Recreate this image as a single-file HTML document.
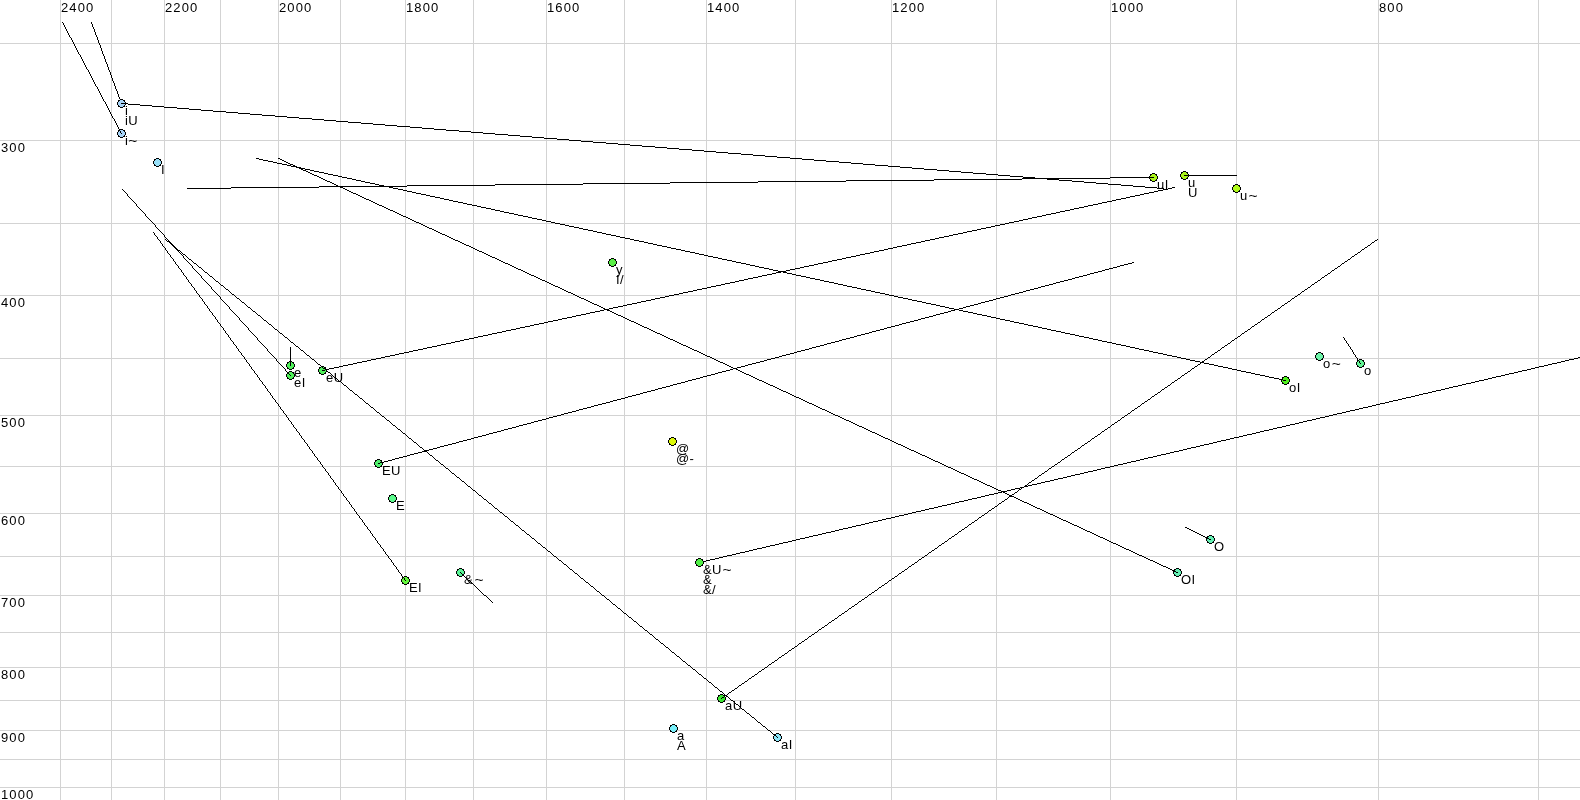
<!DOCTYPE html>
<html><head><meta charset="utf-8"><title>Vowel chart</title>
<style>html,body{margin:0;padding:0;background:#fff;overflow:hidden}svg{display:block;will-change:transform}text{font-family:"Liberation Sans",sans-serif}</style>
</head><body>
<svg width="1580" height="800" viewBox="0 0 1580 800"><rect width="1580" height="800" fill="#fff"/><path fill="#d3d3d3" shape-rendering="crispEdges" d="M60 0h1v800h-1zM111 0h1v800h-1zM164 0h1v800h-1zM220 0h1v800h-1zM278 0h1v800h-1zM340 0h1v800h-1zM405 0h1v800h-1zM473 0h1v800h-1zM546 0h1v800h-1zM624 0h1v800h-1zM706 0h1v800h-1zM795 0h1v800h-1zM891 0h1v800h-1zM996 0h1v800h-1zM1110 0h1v800h-1zM1236 0h1v800h-1zM1378 0h1v800h-1zM1538 0h1v800h-1zM0 43h1580v1h-1580zM0 140h1580v1h-1580zM0 223h1580v1h-1580zM0 295h1580v1h-1580zM0 358h1580v1h-1580zM0 415h1580v1h-1580zM0 466h1580v1h-1580zM0 513h1580v1h-1580zM0 556h1580v1h-1580zM0 595h1580v1h-1580zM0 632h1580v1h-1580zM0 667h1580v1h-1580zM0 700h1580v1h-1580zM0 730h1580v1h-1580zM0 759h1580v1h-1580zM0 787h1580v1h-1580z"/><g font-family="Liberation Sans, sans-serif" font-size="13" letter-spacing="1.1" fill="#000"><text x="61" y="12">2400</text><text x="165" y="12">2200</text><text x="279" y="12">2000</text><text x="406" y="12">1800</text><text x="547" y="12">1600</text><text x="707" y="12">1400</text><text x="892" y="12">1200</text><text x="1111" y="12">1000</text><text x="1379" y="12">800</text><text x="1" y="152">300</text><text x="1" y="307">400</text><text x="1" y="427">500</text><text x="1" y="525">600</text><text x="1" y="607">700</text><text x="1" y="679">800</text><text x="1" y="742">900</text><text x="1" y="799">1000</text></g><path fill="#000" shape-rendering="crispEdges" d="M91 22h1v1h-1zM91 23h1v1h-1zM92 24h1v1h-1zM92 25h1v1h-1zM92 26h1v1h-1zM93 27h1v1h-1zM93 28h1v1h-1zM94 29h1v1h-1zM94 30h1v1h-1zM94 31h1v1h-1zM95 32h1v1h-1zM95 33h1v1h-1zM95 34h1v1h-1zM96 35h1v1h-1zM96 36h1v1h-1zM97 37h1v1h-1zM97 38h1v1h-1zM97 39h1v1h-1zM98 40h1v1h-1zM98 41h1v1h-1zM98 42h1v1h-1zM99 43h1v1h-1zM99 44h1v1h-1zM100 45h1v1h-1zM100 46h1v1h-1zM100 47h1v1h-1zM101 48h1v1h-1zM101 49h1v1h-1zM101 50h1v1h-1zM102 51h1v1h-1zM102 52h1v1h-1zM102 53h1v1h-1zM103 54h1v1h-1zM103 55h1v1h-1zM104 56h1v1h-1zM104 57h1v1h-1zM104 58h1v1h-1zM105 59h1v1h-1zM105 60h1v1h-1zM105 61h1v1h-1zM106 62h1v1h-1zM106 63h1v1h-1zM107 64h1v1h-1zM107 65h1v1h-1zM107 66h1v1h-1zM108 67h1v1h-1zM108 68h1v1h-1zM108 69h1v1h-1zM109 70h1v1h-1zM109 71h1v1h-1zM110 72h1v1h-1zM110 73h1v1h-1zM110 74h1v1h-1zM111 75h1v1h-1zM111 76h1v1h-1zM111 77h1v1h-1zM112 78h1v1h-1zM112 79h1v1h-1zM112 80h1v1h-1zM113 81h1v1h-1zM113 82h1v1h-1zM114 83h1v1h-1zM114 84h1v1h-1zM114 85h1v1h-1zM115 86h1v1h-1zM115 87h1v1h-1zM115 88h1v1h-1zM116 89h1v1h-1zM116 90h1v1h-1zM117 91h1v1h-1zM117 92h1v1h-1zM117 93h1v1h-1zM118 94h1v1h-1zM118 95h1v1h-1zM118 96h1v1h-1zM119 97h1v1h-1zM119 98h1v1h-1zM120 99h1v1h-1zM120 100h1v1h-1zM120 101h1v1h-1zM121 102h1v1h-1zM121 103h1v1h-1zM1578 357h2v1h-2zM1574 358h4v1h-4zM1569 359h5v1h-5zM1565 360h4v1h-4zM1561 361h4v1h-4zM1557 362h4v1h-4zM1552 363h5v1h-5zM1548 364h4v1h-4zM1544 365h4v1h-4zM1539 366h5v1h-5zM1535 367h4v1h-4zM1531 368h4v1h-4zM1527 369h4v1h-4zM1522 370h5v1h-5zM1518 371h4v1h-4zM1514 372h4v1h-4zM1509 373h5v1h-5zM1505 374h4v1h-4zM1501 375h4v1h-4zM1496 376h5v1h-5zM1492 377h4v1h-4zM1488 378h4v1h-4zM1484 379h4v1h-4zM1479 380h5v1h-5zM1475 381h4v1h-4zM1471 382h4v1h-4zM1466 383h5v1h-5zM1462 384h4v1h-4zM1458 385h4v1h-4zM1453 386h5v1h-5zM1449 387h4v1h-4zM1445 388h4v1h-4zM1441 389h4v1h-4zM1436 390h5v1h-5zM1432 391h4v1h-4zM1428 392h4v1h-4zM1423 393h5v1h-5zM1419 394h4v1h-4zM1415 395h4v1h-4zM1411 396h4v1h-4zM1406 397h5v1h-5zM1402 398h4v1h-4zM1398 399h4v1h-4zM1393 400h5v1h-5zM1389 401h4v1h-4zM1385 402h4v1h-4zM1380 403h5v1h-5zM1376 404h4v1h-4zM1372 405h4v1h-4zM1368 406h4v1h-4zM1363 407h5v1h-5zM1359 408h4v1h-4zM1355 409h4v1h-4zM1350 410h5v1h-5zM1346 411h4v1h-4zM1342 412h4v1h-4zM1337 413h5v1h-5zM1333 414h4v1h-4zM1329 415h4v1h-4zM1325 416h4v1h-4zM1320 417h5v1h-5zM1316 418h4v1h-4zM1312 419h4v1h-4zM1307 420h5v1h-5zM1303 421h4v1h-4zM1299 422h4v1h-4zM1295 423h4v1h-4zM1290 424h5v1h-5zM1286 425h4v1h-4zM1282 426h4v1h-4zM1277 427h5v1h-5zM1273 428h4v1h-4zM1269 429h4v1h-4zM1264 430h5v1h-5zM1260 431h4v1h-4zM1256 432h4v1h-4zM1252 433h4v1h-4zM1247 434h5v1h-5zM1243 435h4v1h-4zM1239 436h4v1h-4zM1234 437h5v1h-5zM1230 438h4v1h-4zM1226 439h4v1h-4zM1221 440h5v1h-5zM1217 441h4v1h-4zM1213 442h4v1h-4zM1209 443h4v1h-4zM1204 444h5v1h-5zM1200 445h4v1h-4zM1196 446h4v1h-4zM1191 447h5v1h-5zM1187 448h4v1h-4zM1183 449h4v1h-4zM1179 450h4v1h-4zM1174 451h5v1h-5zM1170 452h4v1h-4zM1166 453h4v1h-4zM1161 454h5v1h-5zM1157 455h4v1h-4zM1153 456h4v1h-4zM1148 457h5v1h-5zM1144 458h4v1h-4zM1140 459h4v1h-4zM1136 460h4v1h-4zM1131 461h5v1h-5zM1127 462h4v1h-4zM1123 463h4v1h-4zM1118 464h5v1h-5zM1114 465h4v1h-4zM1110 466h4v1h-4zM1105 467h5v1h-5zM1101 468h4v1h-4zM1097 469h4v1h-4zM1093 470h4v1h-4zM1088 471h5v1h-5zM1084 472h4v1h-4zM1080 473h4v1h-4zM1075 474h5v1h-5zM1071 475h4v1h-4zM1067 476h4v1h-4zM1063 477h4v1h-4zM1058 478h5v1h-5zM1054 479h4v1h-4zM1050 480h4v1h-4zM1045 481h5v1h-5zM1041 482h4v1h-4zM1037 483h4v1h-4zM1032 484h5v1h-5zM1028 485h4v1h-4zM1024 486h4v1h-4zM1020 487h4v1h-4zM1015 488h5v1h-5zM1011 489h4v1h-4zM1007 490h4v1h-4zM1002 491h5v1h-5zM998 492h4v1h-4zM994 493h4v1h-4zM989 494h5v1h-5zM985 495h4v1h-4zM981 496h4v1h-4zM977 497h4v1h-4zM972 498h5v1h-5zM968 499h4v1h-4zM964 500h4v1h-4zM959 501h5v1h-5zM955 502h4v1h-4zM951 503h4v1h-4zM947 504h4v1h-4zM942 505h5v1h-5zM938 506h4v1h-4zM934 507h4v1h-4zM929 508h5v1h-5zM925 509h4v1h-4zM921 510h4v1h-4zM916 511h5v1h-5zM912 512h4v1h-4zM908 513h4v1h-4zM904 514h4v1h-4zM899 515h5v1h-5zM895 516h4v1h-4zM891 517h4v1h-4zM886 518h5v1h-5zM882 519h4v1h-4zM878 520h4v1h-4zM873 521h5v1h-5zM869 522h4v1h-4zM865 523h4v1h-4zM861 524h4v1h-4zM856 525h5v1h-5zM852 526h4v1h-4zM848 527h4v1h-4zM843 528h5v1h-5zM839 529h4v1h-4zM835 530h4v1h-4zM831 531h4v1h-4zM826 532h5v1h-5zM822 533h4v1h-4zM818 534h4v1h-4zM813 535h5v1h-5zM809 536h4v1h-4zM805 537h4v1h-4zM800 538h5v1h-5zM796 539h4v1h-4zM792 540h4v1h-4zM788 541h4v1h-4zM783 542h5v1h-5zM779 543h4v1h-4zM775 544h4v1h-4zM770 545h5v1h-5zM766 546h4v1h-4zM762 547h4v1h-4zM757 548h5v1h-5zM753 549h4v1h-4zM749 550h4v1h-4zM745 551h4v1h-4zM740 552h5v1h-5zM736 553h4v1h-4zM732 554h4v1h-4zM727 555h5v1h-5zM723 556h4v1h-4zM719 557h4v1h-4zM715 558h4v1h-4zM710 559h5v1h-5zM706 560h4v1h-4zM702 561h4v1h-4zM699 562h3v1h-3z"/><g shape-rendering="crispEdges"><g transform="translate(117 99)"><path d="M3 0h3v1h2v2h1v3h-1v2h-2v1h-3v-1h-2v-2h-1v-3h1v-2h2z" fill="#000"/><path d="M3 1h3v1h1v1h1v3h-1v1h-1v1h-3v-1h-1v-1h-1v-3h1v-1h1z" fill="#a8d4f8"/></g><g transform="translate(117 129)"><path d="M3 0h3v1h2v2h1v3h-1v2h-2v1h-3v-1h-2v-2h-1v-3h1v-2h2z" fill="#000"/><path d="M3 1h3v1h1v1h1v3h-1v1h-1v1h-3v-1h-1v-1h-1v-3h1v-1h1z" fill="#a8d4f8"/></g><g transform="translate(153 158)"><path d="M3 0h3v1h2v2h1v3h-1v2h-2v1h-3v-1h-2v-2h-1v-3h1v-2h2z" fill="#000"/><path d="M3 1h3v1h1v1h1v3h-1v1h-1v1h-3v-1h-1v-1h-1v-3h1v-1h1z" fill="#98e0f8"/></g><g transform="translate(286 361)"><path d="M3 0h3v1h2v2h1v3h-1v2h-2v1h-3v-1h-2v-2h-1v-3h1v-2h2z" fill="#000"/><path d="M3 1h3v1h1v1h1v3h-1v1h-1v1h-3v-1h-1v-1h-1v-3h1v-1h1z" fill="#50f05a"/></g><g transform="translate(286 371)"><path d="M3 0h3v1h2v2h1v3h-1v2h-2v1h-3v-1h-2v-2h-1v-3h1v-2h2z" fill="#000"/><path d="M3 1h3v1h1v1h1v3h-1v1h-1v1h-3v-1h-1v-1h-1v-3h1v-1h1z" fill="#50f05a"/></g><g transform="translate(318 366)"><path d="M3 0h3v1h2v2h1v3h-1v2h-2v1h-3v-1h-2v-2h-1v-3h1v-2h2z" fill="#000"/><path d="M3 1h3v1h1v1h1v3h-1v1h-1v1h-3v-1h-1v-1h-1v-3h1v-1h1z" fill="#50f05a"/></g><g transform="translate(374 459)"><path d="M3 0h3v1h2v2h1v3h-1v2h-2v1h-3v-1h-2v-2h-1v-3h1v-2h2z" fill="#000"/><path d="M3 1h3v1h1v1h1v3h-1v1h-1v1h-3v-1h-1v-1h-1v-3h1v-1h1z" fill="#50f06e"/></g><g transform="translate(388 494)"><path d="M3 0h3v1h2v2h1v3h-1v2h-2v1h-3v-1h-2v-2h-1v-3h1v-2h2z" fill="#000"/><path d="M3 1h3v1h1v1h1v3h-1v1h-1v1h-3v-1h-1v-1h-1v-3h1v-1h1z" fill="#5afa8c"/></g><g transform="translate(401 576)"><path d="M3 0h3v1h2v2h1v3h-1v2h-2v1h-3v-1h-2v-2h-1v-3h1v-2h2z" fill="#000"/><path d="M3 1h3v1h1v1h1v3h-1v1h-1v1h-3v-1h-1v-1h-1v-3h1v-1h1z" fill="#64f53c"/></g><g transform="translate(456 568)"><path d="M3 0h3v1h2v2h1v3h-1v2h-2v1h-3v-1h-2v-2h-1v-3h1v-2h2z" fill="#000"/><path d="M3 1h3v1h1v1h1v3h-1v1h-1v1h-3v-1h-1v-1h-1v-3h1v-1h1z" fill="#5af596"/></g><g transform="translate(608 258)"><path d="M3 0h3v1h2v2h1v3h-1v2h-2v1h-3v-1h-2v-2h-1v-3h1v-2h2z" fill="#000"/><path d="M3 1h3v1h1v1h1v3h-1v1h-1v1h-3v-1h-1v-1h-1v-3h1v-1h1z" fill="#5af046"/></g><g transform="translate(668 437)"><path d="M3 0h3v1h2v2h1v3h-1v2h-2v1h-3v-1h-2v-2h-1v-3h1v-2h2z" fill="#000"/><path d="M3 1h3v1h1v1h1v3h-1v1h-1v1h-3v-1h-1v-1h-1v-3h1v-1h1z" fill="#dcfa0a"/></g><g transform="translate(695 558)"><path d="M3 0h3v1h2v2h1v3h-1v2h-2v1h-3v-1h-2v-2h-1v-3h1v-2h2z" fill="#000"/><path d="M3 1h3v1h1v1h1v3h-1v1h-1v1h-3v-1h-1v-1h-1v-3h1v-1h1z" fill="#50f046"/></g><g transform="translate(717 694)"><path d="M3 0h3v1h2v2h1v3h-1v2h-2v1h-3v-1h-2v-2h-1v-3h1v-2h2z" fill="#000"/><path d="M3 1h3v1h1v1h1v3h-1v1h-1v1h-3v-1h-1v-1h-1v-3h1v-1h1z" fill="#3ce632"/></g><g transform="translate(669 724)"><path d="M3 0h3v1h2v2h1v3h-1v2h-2v1h-3v-1h-2v-2h-1v-3h1v-2h2z" fill="#000"/><path d="M3 1h3v1h1v1h1v3h-1v1h-1v1h-3v-1h-1v-1h-1v-3h1v-1h1z" fill="#78f0fa"/></g><g transform="translate(773 733)"><path d="M3 0h3v1h2v2h1v3h-1v2h-2v1h-3v-1h-2v-2h-1v-3h1v-2h2z" fill="#000"/><path d="M3 1h3v1h1v1h1v3h-1v1h-1v1h-3v-1h-1v-1h-1v-3h1v-1h1z" fill="#8ce6fa"/></g><g transform="translate(1149 173)"><path d="M3 0h3v1h2v2h1v3h-1v2h-2v1h-3v-1h-2v-2h-1v-3h1v-2h2z" fill="#000"/><path d="M3 1h3v1h1v1h1v3h-1v1h-1v1h-3v-1h-1v-1h-1v-3h1v-1h1z" fill="#aaf519"/></g><g transform="translate(1180 171)"><path d="M3 0h3v1h2v2h1v3h-1v2h-2v1h-3v-1h-2v-2h-1v-3h1v-2h2z" fill="#000"/><path d="M3 1h3v1h1v1h1v3h-1v1h-1v1h-3v-1h-1v-1h-1v-3h1v-1h1z" fill="#aaf519"/></g><g transform="translate(1232 184)"><path d="M3 0h3v1h2v2h1v3h-1v2h-2v1h-3v-1h-2v-2h-1v-3h1v-2h2z" fill="#000"/><path d="M3 1h3v1h1v1h1v3h-1v1h-1v1h-3v-1h-1v-1h-1v-3h1v-1h1z" fill="#affa19"/></g><g transform="translate(1281 376)"><path d="M3 0h3v1h2v2h1v3h-1v2h-2v1h-3v-1h-2v-2h-1v-3h1v-2h2z" fill="#000"/><path d="M3 1h3v1h1v1h1v3h-1v1h-1v1h-3v-1h-1v-1h-1v-3h1v-1h1z" fill="#50f01e"/></g><g transform="translate(1315 352)"><path d="M3 0h3v1h2v2h1v3h-1v2h-2v1h-3v-1h-2v-2h-1v-3h1v-2h2z" fill="#000"/><path d="M3 1h3v1h1v1h1v3h-1v1h-1v1h-3v-1h-1v-1h-1v-3h1v-1h1z" fill="#6ef5aa"/></g><g transform="translate(1356 359)"><path d="M3 0h3v1h2v2h1v3h-1v2h-2v1h-3v-1h-2v-2h-1v-3h1v-2h2z" fill="#000"/><path d="M3 1h3v1h1v1h1v3h-1v1h-1v1h-3v-1h-1v-1h-1v-3h1v-1h1z" fill="#64f596"/></g><g transform="translate(1206 535)"><path d="M3 0h3v1h2v2h1v3h-1v2h-2v1h-3v-1h-2v-2h-1v-3h1v-2h2z" fill="#000"/><path d="M3 1h3v1h1v1h1v3h-1v1h-1v1h-3v-1h-1v-1h-1v-3h1v-1h1z" fill="#64f0b4"/></g><g transform="translate(1173 568)"><path d="M3 0h3v1h2v2h1v3h-1v2h-2v1h-3v-1h-2v-2h-1v-3h1v-2h2z" fill="#000"/><path d="M3 1h3v1h1v1h1v3h-1v1h-1v1h-3v-1h-1v-1h-1v-3h1v-1h1z" fill="#64f0b4"/></g></g><path fill="#000" shape-rendering="crispEdges" d="M62 22h1v1h-1zM63 23h1v1h-1zM63 24h1v1h-1zM64 25h1v1h-1zM64 26h1v1h-1zM65 27h1v1h-1zM65 28h1v1h-1zM66 29h1v1h-1zM66 30h1v1h-1zM67 31h1v1h-1zM67 32h1v1h-1zM68 33h1v1h-1zM68 34h1v1h-1zM69 35h1v1h-1zM69 36h1v1h-1zM70 37h1v1h-1zM71 38h1v1h-1zM71 39h1v1h-1zM72 40h1v1h-1zM72 41h1v1h-1zM73 42h1v1h-1zM73 43h1v1h-1zM74 44h1v1h-1zM74 45h1v1h-1zM75 46h1v1h-1zM75 47h1v1h-1zM76 48h1v1h-1zM76 49h1v1h-1zM77 50h1v1h-1zM77 51h1v1h-1zM78 52h1v1h-1zM78 53h1v1h-1zM79 54h1v1h-1zM80 55h1v1h-1zM80 56h1v1h-1zM81 57h1v1h-1zM81 58h1v1h-1zM82 59h1v1h-1zM82 60h1v1h-1zM83 61h1v1h-1zM83 62h1v1h-1zM84 63h1v1h-1zM84 64h1v1h-1zM85 65h1v1h-1zM85 66h1v1h-1zM86 67h1v1h-1zM86 68h1v1h-1zM87 69h1v1h-1zM88 70h1v1h-1zM88 71h1v1h-1zM89 72h1v1h-1zM89 73h1v1h-1zM90 74h1v1h-1zM90 75h1v1h-1zM91 76h1v1h-1zM91 77h1v1h-1zM92 78h1v1h-1zM92 79h1v1h-1zM93 80h1v1h-1zM93 81h1v1h-1zM94 82h1v1h-1zM94 83h1v1h-1zM95 84h1v1h-1zM95 85h1v1h-1zM96 86h1v1h-1zM97 87h1v1h-1zM97 88h1v1h-1zM98 89h1v1h-1zM98 90h1v1h-1zM99 91h1v1h-1zM99 92h1v1h-1zM100 93h1v1h-1zM100 94h1v1h-1zM101 95h1v1h-1zM101 96h1v1h-1zM102 97h1v1h-1zM102 98h1v1h-1zM103 99h1v1h-1zM103 100h1v1h-1zM104 101h1v1h-1zM105 102h1v1h-1zM105 103h1v1h-1zM106 104h1v1h-1zM106 105h1v1h-1zM107 106h1v1h-1zM107 107h1v1h-1zM108 108h1v1h-1zM108 109h1v1h-1zM109 110h1v1h-1zM109 111h1v1h-1zM110 112h1v1h-1zM110 113h1v1h-1zM111 114h1v1h-1zM111 115h1v1h-1zM112 116h1v1h-1zM112 117h1v1h-1zM113 118h1v1h-1zM114 119h1v1h-1zM114 120h1v1h-1zM115 121h1v1h-1zM115 122h1v1h-1zM116 123h1v1h-1zM116 124h1v1h-1zM117 125h1v1h-1zM117 126h1v1h-1zM118 127h1v1h-1zM118 128h1v1h-1zM119 129h1v1h-1zM119 130h1v1h-1zM120 131h1v1h-1zM120 132h1v1h-1zM121 133h1v1h-1zM121 103h7v1h-7zM128 104h12v1h-12zM140 105h12v1h-12zM152 106h12v1h-12zM164 107h13v1h-13zM177 108h12v1h-12zM189 109h12v1h-12zM201 110h12v1h-12zM213 111h13v1h-13zM226 112h12v1h-12zM238 113h12v1h-12zM250 114h12v1h-12zM262 115h13v1h-13zM275 116h12v1h-12zM287 117h12v1h-12zM299 118h13v1h-13zM312 119h12v1h-12zM324 120h12v1h-12zM336 121h12v1h-12zM348 122h13v1h-13zM361 123h12v1h-12zM373 124h12v1h-12zM385 125h12v1h-12zM397 126h13v1h-13zM410 127h12v1h-12zM422 128h12v1h-12zM434 129h12v1h-12zM446 130h13v1h-13zM459 131h12v1h-12zM471 132h12v1h-12zM483 133h12v1h-12zM495 134h13v1h-13zM508 135h12v1h-12zM520 136h12v1h-12zM532 137h12v1h-12zM544 138h13v1h-13zM557 139h12v1h-12zM569 140h12v1h-12zM581 141h12v1h-12zM593 142h13v1h-13zM606 143h12v1h-12zM618 144h12v1h-12zM630 145h12v1h-12zM642 146h13v1h-13zM655 147h12v1h-12zM667 148h12v1h-12zM679 149h13v1h-13zM692 150h12v1h-12zM704 151h12v1h-12zM716 152h12v1h-12zM728 153h13v1h-13zM741 154h12v1h-12zM753 155h12v1h-12zM765 156h12v1h-12zM777 157h13v1h-13zM790 158h12v1h-12zM802 159h12v1h-12zM814 160h12v1h-12zM826 161h13v1h-13zM839 162h12v1h-12zM851 163h12v1h-12zM863 164h12v1h-12zM875 165h13v1h-13zM888 166h12v1h-12zM900 167h12v1h-12zM912 168h12v1h-12zM924 169h13v1h-13zM937 170h12v1h-12zM949 171h12v1h-12zM961 172h12v1h-12zM973 173h13v1h-13zM986 174h12v1h-12zM998 175h12v1h-12zM1010 176h13v1h-13zM1023 177h12v1h-12zM1035 178h12v1h-12zM1047 179h12v1h-12zM1059 180h13v1h-13zM1072 181h12v1h-12zM1084 182h12v1h-12zM1096 183h12v1h-12zM1108 184h13v1h-13zM1121 185h12v1h-12zM1133 186h12v1h-12zM1145 187h12v1h-12zM1157 188h7v1h-7zM1110 177h44v1h-44zM1022 178h88v1h-88zM934 179h88v1h-88zM846 180h88v1h-88zM758 181h88v1h-88zM670 182h88v1h-88zM583 183h87v1h-87zM495 184h88v1h-88zM407 185h88v1h-88zM319 186h88v1h-88zM231 187h88v1h-88zM187 188h44v1h-44zM256 158h3v1h-3zM259 159h4v1h-4zM263 160h5v1h-5zM268 161h5v1h-5zM273 162h4v1h-4zM277 163h5v1h-5zM282 164h5v1h-5zM287 165h4v1h-4zM291 166h5v1h-5zM296 167h5v1h-5zM301 168h4v1h-4zM305 169h5v1h-5zM310 170h4v1h-4zM314 171h5v1h-5zM319 172h5v1h-5zM324 173h4v1h-4zM328 174h5v1h-5zM333 175h5v1h-5zM338 176h4v1h-4zM342 177h5v1h-5zM347 178h5v1h-5zM352 179h4v1h-4zM356 180h5v1h-5zM361 181h4v1h-4zM365 182h5v1h-5zM370 183h5v1h-5zM375 184h4v1h-4zM379 185h5v1h-5zM384 186h5v1h-5zM389 187h4v1h-4zM393 188h5v1h-5zM398 189h5v1h-5zM403 190h4v1h-4zM407 191h5v1h-5zM412 192h4v1h-4zM416 193h5v1h-5zM421 194h5v1h-5zM426 195h4v1h-4zM430 196h5v1h-5zM435 197h5v1h-5zM440 198h4v1h-4zM444 199h5v1h-5zM449 200h4v1h-4zM453 201h5v1h-5zM458 202h5v1h-5zM463 203h4v1h-4zM467 204h5v1h-5zM472 205h5v1h-5zM477 206h4v1h-4zM481 207h5v1h-5zM486 208h5v1h-5zM491 209h4v1h-4zM495 210h5v1h-5zM500 211h4v1h-4zM504 212h5v1h-5zM509 213h5v1h-5zM514 214h4v1h-4zM518 215h5v1h-5zM523 216h5v1h-5zM528 217h4v1h-4zM532 218h5v1h-5zM537 219h5v1h-5zM542 220h4v1h-4zM546 221h5v1h-5zM551 222h4v1h-4zM555 223h5v1h-5zM560 224h5v1h-5zM565 225h4v1h-4zM569 226h5v1h-5zM574 227h5v1h-5zM579 228h4v1h-4zM583 229h5v1h-5zM588 230h5v1h-5zM593 231h4v1h-4zM597 232h5v1h-5zM602 233h4v1h-4zM606 234h5v1h-5zM611 235h5v1h-5zM616 236h4v1h-4zM620 237h5v1h-5zM625 238h5v1h-5zM630 239h4v1h-4zM634 240h5v1h-5zM639 241h5v1h-5zM644 242h4v1h-4zM648 243h5v1h-5zM653 244h4v1h-4zM657 245h5v1h-5zM662 246h5v1h-5zM667 247h4v1h-4zM671 248h5v1h-5zM676 249h5v1h-5zM681 250h4v1h-4zM685 251h5v1h-5zM690 252h5v1h-5zM695 253h4v1h-4zM699 254h5v1h-5zM704 255h4v1h-4zM708 256h5v1h-5zM713 257h5v1h-5zM718 258h4v1h-4zM722 259h5v1h-5zM727 260h5v1h-5zM732 261h4v1h-4zM736 262h5v1h-5zM741 263h5v1h-5zM746 264h4v1h-4zM750 265h5v1h-5zM755 266h4v1h-4zM759 267h5v1h-5zM764 268h5v1h-5zM769 269h4v1h-4zM773 270h5v1h-5zM778 271h5v1h-5zM783 272h4v1h-4zM787 273h5v1h-5zM792 274h4v1h-4zM796 275h5v1h-5zM801 276h5v1h-5zM806 277h4v1h-4zM810 278h5v1h-5zM815 279h5v1h-5zM820 280h4v1h-4zM824 281h5v1h-5zM829 282h5v1h-5zM834 283h4v1h-4zM838 284h5v1h-5zM843 285h4v1h-4zM847 286h5v1h-5zM852 287h5v1h-5zM857 288h4v1h-4zM861 289h5v1h-5zM866 290h5v1h-5zM871 291h4v1h-4zM875 292h5v1h-5zM880 293h5v1h-5zM885 294h4v1h-4zM889 295h5v1h-5zM894 296h4v1h-4zM898 297h5v1h-5zM903 298h5v1h-5zM908 299h4v1h-4zM912 300h5v1h-5zM917 301h5v1h-5zM922 302h4v1h-4zM926 303h5v1h-5zM931 304h5v1h-5zM936 305h4v1h-4zM940 306h5v1h-5zM945 307h4v1h-4zM949 308h5v1h-5zM954 309h5v1h-5zM959 310h4v1h-4zM963 311h5v1h-5zM968 312h5v1h-5zM973 313h4v1h-4zM977 314h5v1h-5zM982 315h5v1h-5zM987 316h4v1h-4zM991 317h5v1h-5zM996 318h4v1h-4zM1000 319h5v1h-5zM1005 320h5v1h-5zM1010 321h4v1h-4zM1014 322h5v1h-5zM1019 323h5v1h-5zM1024 324h4v1h-4zM1028 325h5v1h-5zM1033 326h5v1h-5zM1038 327h4v1h-4zM1042 328h5v1h-5zM1047 329h4v1h-4zM1051 330h5v1h-5zM1056 331h5v1h-5zM1061 332h4v1h-4zM1065 333h5v1h-5zM1070 334h5v1h-5zM1075 335h4v1h-4zM1079 336h5v1h-5zM1084 337h5v1h-5zM1089 338h4v1h-4zM1093 339h5v1h-5zM1098 340h4v1h-4zM1102 341h5v1h-5zM1107 342h5v1h-5zM1112 343h4v1h-4zM1116 344h5v1h-5zM1121 345h5v1h-5zM1126 346h4v1h-4zM1130 347h5v1h-5zM1135 348h4v1h-4zM1139 349h5v1h-5zM1144 350h5v1h-5zM1149 351h4v1h-4zM1153 352h5v1h-5zM1158 353h5v1h-5zM1163 354h4v1h-4zM1167 355h5v1h-5zM1172 356h5v1h-5zM1177 357h4v1h-4zM1181 358h5v1h-5zM1186 359h4v1h-4zM1190 360h5v1h-5zM1195 361h5v1h-5zM1200 362h4v1h-4zM1204 363h5v1h-5zM1209 364h5v1h-5zM1214 365h4v1h-4zM1218 366h5v1h-5zM1223 367h5v1h-5zM1228 368h4v1h-4zM1232 369h5v1h-5zM1237 370h4v1h-4zM1241 371h5v1h-5zM1246 372h5v1h-5zM1251 373h4v1h-4zM1255 374h5v1h-5zM1260 375h5v1h-5zM1265 376h4v1h-4zM1269 377h5v1h-5zM1274 378h5v1h-5zM1279 379h4v1h-4zM1283 380h3v1h-3zM278 158h2v1h-2zM280 159h2v1h-2zM282 160h2v1h-2zM284 161h2v1h-2zM286 162h2v1h-2zM288 163h2v1h-2zM290 164h3v1h-3zM293 165h2v1h-2zM295 166h2v1h-2zM297 167h2v1h-2zM299 168h2v1h-2zM301 169h2v1h-2zM303 170h3v1h-3zM306 171h2v1h-2zM308 172h2v1h-2zM310 173h2v1h-2zM312 174h2v1h-2zM314 175h3v1h-3zM317 176h2v1h-2zM319 177h2v1h-2zM321 178h2v1h-2zM323 179h2v1h-2zM325 180h2v1h-2zM327 181h3v1h-3zM330 182h2v1h-2zM332 183h2v1h-2zM334 184h2v1h-2zM336 185h2v1h-2zM338 186h2v1h-2zM340 187h3v1h-3zM343 188h2v1h-2zM345 189h2v1h-2zM347 190h2v1h-2zM349 191h2v1h-2zM351 192h2v1h-2zM353 193h3v1h-3zM356 194h2v1h-2zM358 195h2v1h-2zM360 196h2v1h-2zM362 197h2v1h-2zM364 198h2v1h-2zM366 199h3v1h-3zM369 200h2v1h-2zM371 201h2v1h-2zM373 202h2v1h-2zM375 203h2v1h-2zM377 204h2v1h-2zM379 205h3v1h-3zM382 206h2v1h-2zM384 207h2v1h-2zM386 208h2v1h-2zM388 209h2v1h-2zM390 210h3v1h-3zM393 211h2v1h-2zM395 212h2v1h-2zM397 213h2v1h-2zM399 214h2v1h-2zM401 215h2v1h-2zM403 216h3v1h-3zM406 217h2v1h-2zM408 218h2v1h-2zM410 219h2v1h-2zM412 220h2v1h-2zM414 221h2v1h-2zM416 222h3v1h-3zM419 223h2v1h-2zM421 224h2v1h-2zM423 225h2v1h-2zM425 226h2v1h-2zM427 227h2v1h-2zM429 228h3v1h-3zM432 229h2v1h-2zM434 230h2v1h-2zM436 231h2v1h-2zM438 232h2v1h-2zM440 233h2v1h-2zM442 234h3v1h-3zM445 235h2v1h-2zM447 236h2v1h-2zM449 237h2v1h-2zM451 238h2v1h-2zM453 239h2v1h-2zM455 240h3v1h-3zM458 241h2v1h-2zM460 242h2v1h-2zM462 243h2v1h-2zM464 244h2v1h-2zM466 245h3v1h-3zM469 246h2v1h-2zM471 247h2v1h-2zM473 248h2v1h-2zM475 249h2v1h-2zM477 250h2v1h-2zM479 251h3v1h-3zM482 252h2v1h-2zM484 253h2v1h-2zM486 254h2v1h-2zM488 255h2v1h-2zM490 256h2v1h-2zM492 257h3v1h-3zM495 258h2v1h-2zM497 259h2v1h-2zM499 260h2v1h-2zM501 261h2v1h-2zM503 262h2v1h-2zM505 263h3v1h-3zM508 264h2v1h-2zM510 265h2v1h-2zM512 266h2v1h-2zM514 267h2v1h-2zM516 268h2v1h-2zM518 269h3v1h-3zM521 270h2v1h-2zM523 271h2v1h-2zM525 272h2v1h-2zM527 273h2v1h-2zM529 274h2v1h-2zM531 275h3v1h-3zM534 276h2v1h-2zM536 277h2v1h-2zM538 278h2v1h-2zM540 279h2v1h-2zM542 280h3v1h-3zM545 281h2v1h-2zM547 282h2v1h-2zM549 283h2v1h-2zM551 284h2v1h-2zM553 285h2v1h-2zM555 286h3v1h-3zM558 287h2v1h-2zM560 288h2v1h-2zM562 289h2v1h-2zM564 290h2v1h-2zM566 291h2v1h-2zM568 292h3v1h-3zM571 293h2v1h-2zM573 294h2v1h-2zM575 295h2v1h-2zM577 296h2v1h-2zM579 297h2v1h-2zM581 298h3v1h-3zM584 299h2v1h-2zM586 300h2v1h-2zM588 301h2v1h-2zM590 302h2v1h-2zM592 303h2v1h-2zM594 304h3v1h-3zM597 305h2v1h-2zM599 306h2v1h-2zM601 307h2v1h-2zM603 308h2v1h-2zM605 309h2v1h-2zM607 310h3v1h-3zM610 311h2v1h-2zM612 312h2v1h-2zM614 313h2v1h-2zM616 314h2v1h-2zM618 315h3v1h-3zM621 316h2v1h-2zM623 317h2v1h-2zM625 318h2v1h-2zM627 319h2v1h-2zM629 320h2v1h-2zM631 321h3v1h-3zM634 322h2v1h-2zM636 323h2v1h-2zM638 324h2v1h-2zM640 325h2v1h-2zM642 326h2v1h-2zM644 327h3v1h-3zM647 328h2v1h-2zM649 329h2v1h-2zM651 330h2v1h-2zM653 331h2v1h-2zM655 332h2v1h-2zM657 333h3v1h-3zM660 334h2v1h-2zM662 335h2v1h-2zM664 336h2v1h-2zM666 337h2v1h-2zM668 338h2v1h-2zM670 339h3v1h-3zM673 340h2v1h-2zM675 341h2v1h-2zM677 342h2v1h-2zM679 343h2v1h-2zM681 344h2v1h-2zM683 345h3v1h-3zM686 346h2v1h-2zM688 347h2v1h-2zM690 348h2v1h-2zM692 349h2v1h-2zM694 350h3v1h-3zM697 351h2v1h-2zM699 352h2v1h-2zM701 353h2v1h-2zM703 354h2v1h-2zM705 355h2v1h-2zM707 356h3v1h-3zM710 357h2v1h-2zM712 358h2v1h-2zM714 359h2v1h-2zM716 360h2v1h-2zM718 361h2v1h-2zM720 362h3v1h-3zM723 363h2v1h-2zM725 364h2v1h-2zM727 365h2v1h-2zM729 366h2v1h-2zM731 367h2v1h-2zM733 368h3v1h-3zM736 369h2v1h-2zM738 370h2v1h-2zM740 371h2v1h-2zM742 372h2v1h-2zM744 373h2v1h-2zM746 374h3v1h-3zM749 375h2v1h-2zM751 376h2v1h-2zM753 377h2v1h-2zM755 378h2v1h-2zM757 379h2v1h-2zM759 380h3v1h-3zM762 381h2v1h-2zM764 382h2v1h-2zM766 383h2v1h-2zM768 384h2v1h-2zM770 385h3v1h-3zM773 386h2v1h-2zM775 387h2v1h-2zM777 388h2v1h-2zM779 389h2v1h-2zM781 390h2v1h-2zM783 391h3v1h-3zM786 392h2v1h-2zM788 393h2v1h-2zM790 394h2v1h-2zM792 395h2v1h-2zM794 396h2v1h-2zM796 397h3v1h-3zM799 398h2v1h-2zM801 399h2v1h-2zM803 400h2v1h-2zM805 401h2v1h-2zM807 402h2v1h-2zM809 403h3v1h-3zM812 404h2v1h-2zM814 405h2v1h-2zM816 406h2v1h-2zM818 407h2v1h-2zM820 408h2v1h-2zM822 409h3v1h-3zM825 410h2v1h-2zM827 411h2v1h-2zM829 412h2v1h-2zM831 413h2v1h-2zM833 414h2v1h-2zM835 415h3v1h-3zM838 416h2v1h-2zM840 417h2v1h-2zM842 418h2v1h-2zM844 419h2v1h-2zM846 420h3v1h-3zM849 421h2v1h-2zM851 422h2v1h-2zM853 423h2v1h-2zM855 424h2v1h-2zM857 425h2v1h-2zM859 426h3v1h-3zM862 427h2v1h-2zM864 428h2v1h-2zM866 429h2v1h-2zM868 430h2v1h-2zM870 431h2v1h-2zM872 432h3v1h-3zM875 433h2v1h-2zM877 434h2v1h-2zM879 435h2v1h-2zM881 436h2v1h-2zM883 437h2v1h-2zM885 438h3v1h-3zM888 439h2v1h-2zM890 440h2v1h-2zM892 441h2v1h-2zM894 442h2v1h-2zM896 443h2v1h-2zM898 444h3v1h-3zM901 445h2v1h-2zM903 446h2v1h-2zM905 447h2v1h-2zM907 448h2v1h-2zM909 449h2v1h-2zM911 450h3v1h-3zM914 451h2v1h-2zM916 452h2v1h-2zM918 453h2v1h-2zM920 454h2v1h-2zM922 455h3v1h-3zM925 456h2v1h-2zM927 457h2v1h-2zM929 458h2v1h-2zM931 459h2v1h-2zM933 460h2v1h-2zM935 461h3v1h-3zM938 462h2v1h-2zM940 463h2v1h-2zM942 464h2v1h-2zM944 465h2v1h-2zM946 466h2v1h-2zM948 467h3v1h-3zM951 468h2v1h-2zM953 469h2v1h-2zM955 470h2v1h-2zM957 471h2v1h-2zM959 472h2v1h-2zM961 473h3v1h-3zM964 474h2v1h-2zM966 475h2v1h-2zM968 476h2v1h-2zM970 477h2v1h-2zM972 478h2v1h-2zM974 479h3v1h-3zM977 480h2v1h-2zM979 481h2v1h-2zM981 482h2v1h-2zM983 483h2v1h-2zM985 484h2v1h-2zM987 485h3v1h-3zM990 486h2v1h-2zM992 487h2v1h-2zM994 488h2v1h-2zM996 489h2v1h-2zM998 490h3v1h-3zM1001 491h2v1h-2zM1003 492h2v1h-2zM1005 493h2v1h-2zM1007 494h2v1h-2zM1009 495h2v1h-2zM1011 496h3v1h-3zM1014 497h2v1h-2zM1016 498h2v1h-2zM1018 499h2v1h-2zM1020 500h2v1h-2zM1022 501h2v1h-2zM1024 502h3v1h-3zM1027 503h2v1h-2zM1029 504h2v1h-2zM1031 505h2v1h-2zM1033 506h2v1h-2zM1035 507h2v1h-2zM1037 508h3v1h-3zM1040 509h2v1h-2zM1042 510h2v1h-2zM1044 511h2v1h-2zM1046 512h2v1h-2zM1048 513h2v1h-2zM1050 514h3v1h-3zM1053 515h2v1h-2zM1055 516h2v1h-2zM1057 517h2v1h-2zM1059 518h2v1h-2zM1061 519h2v1h-2zM1063 520h3v1h-3zM1066 521h2v1h-2zM1068 522h2v1h-2zM1070 523h2v1h-2zM1072 524h2v1h-2zM1074 525h3v1h-3zM1077 526h2v1h-2zM1079 527h2v1h-2zM1081 528h2v1h-2zM1083 529h2v1h-2zM1085 530h2v1h-2zM1087 531h3v1h-3zM1090 532h2v1h-2zM1092 533h2v1h-2zM1094 534h2v1h-2zM1096 535h2v1h-2zM1098 536h2v1h-2zM1100 537h3v1h-3zM1103 538h2v1h-2zM1105 539h2v1h-2zM1107 540h2v1h-2zM1109 541h2v1h-2zM1111 542h2v1h-2zM1113 543h3v1h-3zM1116 544h2v1h-2zM1118 545h2v1h-2zM1120 546h2v1h-2zM1122 547h2v1h-2zM1124 548h2v1h-2zM1126 549h3v1h-3zM1129 550h2v1h-2zM1131 551h2v1h-2zM1133 552h2v1h-2zM1135 553h2v1h-2zM1137 554h2v1h-2zM1139 555h3v1h-3zM1142 556h2v1h-2zM1144 557h2v1h-2zM1146 558h2v1h-2zM1148 559h2v1h-2zM1150 560h3v1h-3zM1153 561h2v1h-2zM1155 562h2v1h-2zM1157 563h2v1h-2zM1159 564h2v1h-2zM1161 565h2v1h-2zM1163 566h3v1h-3zM1166 567h2v1h-2zM1168 568h2v1h-2zM1170 569h2v1h-2zM1172 570h2v1h-2zM1174 571h2v1h-2zM1176 572h2v1h-2zM122 189h1v1h-1zM123 190h1v1h-1zM124 191h1v1h-1zM125 192h1v1h-1zM126 193h1v1h-1zM127 194h1v1h-1zM127 195h1v1h-1zM128 196h1v1h-1zM129 197h1v1h-1zM130 198h1v1h-1zM131 199h1v1h-1zM132 200h1v1h-1zM133 201h1v1h-1zM134 202h1v1h-1zM135 203h1v1h-1zM136 204h1v1h-1zM136 205h1v1h-1zM137 206h1v1h-1zM138 207h1v1h-1zM139 208h1v1h-1zM140 209h1v1h-1zM141 210h1v1h-1zM142 211h1v1h-1zM143 212h1v1h-1zM144 213h1v1h-1zM145 214h1v1h-1zM145 215h1v1h-1zM146 216h1v1h-1zM147 217h1v1h-1zM148 218h1v1h-1zM149 219h1v1h-1zM150 220h1v1h-1zM151 221h1v1h-1zM152 222h1v1h-1zM153 223h1v1h-1zM154 224h1v1h-1zM155 225h1v1h-1zM155 226h1v1h-1zM156 227h1v1h-1zM157 228h1v1h-1zM158 229h1v1h-1zM159 230h1v1h-1zM160 231h1v1h-1zM161 232h1v1h-1zM162 233h1v1h-1zM163 234h1v1h-1zM164 235h1v1h-1zM164 236h1v1h-1zM165 237h1v1h-1zM166 238h1v1h-1zM167 239h1v1h-1zM168 240h1v1h-1zM169 241h1v1h-1zM170 242h1v1h-1zM171 243h1v1h-1zM172 244h1v1h-1zM173 245h1v1h-1zM173 246h1v1h-1zM174 247h1v1h-1zM175 248h1v1h-1zM176 249h1v1h-1zM177 250h1v1h-1zM178 251h1v1h-1zM179 252h1v1h-1zM180 253h1v1h-1zM181 254h1v1h-1zM182 255h1v1h-1zM183 256h1v1h-1zM183 257h1v1h-1zM184 258h1v1h-1zM185 259h1v1h-1zM186 260h1v1h-1zM187 261h1v1h-1zM188 262h1v1h-1zM189 263h1v1h-1zM190 264h1v1h-1zM191 265h1v1h-1zM192 266h1v1h-1zM192 267h1v1h-1zM193 268h1v1h-1zM194 269h1v1h-1zM195 270h1v1h-1zM196 271h1v1h-1zM197 272h1v1h-1zM198 273h1v1h-1zM199 274h1v1h-1zM200 275h1v1h-1zM201 276h1v1h-1zM201 277h1v1h-1zM202 278h1v1h-1zM203 279h1v1h-1zM204 280h1v1h-1zM205 281h1v1h-1zM206 282h1v1h-1zM207 283h1v1h-1zM208 284h1v1h-1zM209 285h1v1h-1zM210 286h1v1h-1zM211 287h1v1h-1zM211 288h1v1h-1zM212 289h1v1h-1zM213 290h1v1h-1zM214 291h1v1h-1zM215 292h1v1h-1zM216 293h1v1h-1zM217 294h1v1h-1zM218 295h1v1h-1zM219 296h1v1h-1zM220 297h1v1h-1zM220 298h1v1h-1zM221 299h1v1h-1zM222 300h1v1h-1zM223 301h1v1h-1zM224 302h1v1h-1zM225 303h1v1h-1zM226 304h1v1h-1zM227 305h1v1h-1zM228 306h1v1h-1zM229 307h1v1h-1zM229 308h1v1h-1zM230 309h1v1h-1zM231 310h1v1h-1zM232 311h1v1h-1zM233 312h1v1h-1zM234 313h1v1h-1zM235 314h1v1h-1zM236 315h1v1h-1zM237 316h1v1h-1zM238 317h1v1h-1zM239 318h1v1h-1zM239 319h1v1h-1zM240 320h1v1h-1zM241 321h1v1h-1zM242 322h1v1h-1zM243 323h1v1h-1zM244 324h1v1h-1zM245 325h1v1h-1zM246 326h1v1h-1zM247 327h1v1h-1zM248 328h1v1h-1zM248 329h1v1h-1zM249 330h1v1h-1zM250 331h1v1h-1zM251 332h1v1h-1zM252 333h1v1h-1zM253 334h1v1h-1zM254 335h1v1h-1zM255 336h1v1h-1zM256 337h1v1h-1zM257 338h1v1h-1zM257 339h1v1h-1zM258 340h1v1h-1zM259 341h1v1h-1zM260 342h1v1h-1zM261 343h1v1h-1zM262 344h1v1h-1zM263 345h1v1h-1zM264 346h1v1h-1zM265 347h1v1h-1zM266 348h1v1h-1zM267 349h1v1h-1zM267 350h1v1h-1zM268 351h1v1h-1zM269 352h1v1h-1zM270 353h1v1h-1zM271 354h1v1h-1zM272 355h1v1h-1zM273 356h1v1h-1zM274 357h1v1h-1zM275 358h1v1h-1zM276 359h1v1h-1zM276 360h1v1h-1zM277 361h1v1h-1zM278 362h1v1h-1zM279 363h1v1h-1zM280 364h1v1h-1zM281 365h1v1h-1zM282 366h1v1h-1zM283 367h1v1h-1zM284 368h1v1h-1zM285 369h1v1h-1zM285 370h1v1h-1zM286 371h1v1h-1zM287 372h1v1h-1zM288 373h1v1h-1zM289 374h1v1h-1zM290 375h1v1h-1zM153 232h1v1h-1zM154 233h1v1h-1zM154 234h1v1h-1zM155 235h1v1h-1zM156 236h1v1h-1zM157 237h1v1h-1zM157 238h1v1h-1zM158 239h1v1h-1zM159 240h1v1h-1zM160 241h1v1h-1zM160 242h1v1h-1zM161 243h1v1h-1zM162 244h1v1h-1zM162 245h1v1h-1zM163 246h1v1h-1zM164 247h1v1h-1zM165 248h1v1h-1zM165 249h1v1h-1zM166 250h1v1h-1zM167 251h1v1h-1zM167 252h1v1h-1zM168 253h1v1h-1zM169 254h1v1h-1zM170 255h1v1h-1zM170 256h1v1h-1zM171 257h1v1h-1zM172 258h1v1h-1zM173 259h1v1h-1zM173 260h1v1h-1zM174 261h1v1h-1zM175 262h1v1h-1zM175 263h1v1h-1zM176 264h1v1h-1zM177 265h1v1h-1zM178 266h1v1h-1zM178 267h1v1h-1zM179 268h1v1h-1zM180 269h1v1h-1zM181 270h1v1h-1zM181 271h1v1h-1zM182 272h1v1h-1zM183 273h1v1h-1zM183 274h1v1h-1zM184 275h1v1h-1zM185 276h1v1h-1zM186 277h1v1h-1zM186 278h1v1h-1zM187 279h1v1h-1zM188 280h1v1h-1zM188 281h1v1h-1zM189 282h1v1h-1zM190 283h1v1h-1zM191 284h1v1h-1zM191 285h1v1h-1zM192 286h1v1h-1zM193 287h1v1h-1zM194 288h1v1h-1zM194 289h1v1h-1zM195 290h1v1h-1zM196 291h1v1h-1zM196 292h1v1h-1zM197 293h1v1h-1zM198 294h1v1h-1zM199 295h1v1h-1zM199 296h1v1h-1zM200 297h1v1h-1zM201 298h1v1h-1zM202 299h1v1h-1zM202 300h1v1h-1zM203 301h1v1h-1zM204 302h1v1h-1zM204 303h1v1h-1zM205 304h1v1h-1zM206 305h1v1h-1zM207 306h1v1h-1zM207 307h1v1h-1zM208 308h1v1h-1zM209 309h1v1h-1zM209 310h1v1h-1zM210 311h1v1h-1zM211 312h1v1h-1zM212 313h1v1h-1zM212 314h1v1h-1zM213 315h1v1h-1zM214 316h1v1h-1zM215 317h1v1h-1zM215 318h1v1h-1zM216 319h1v1h-1zM217 320h1v1h-1zM217 321h1v1h-1zM218 322h1v1h-1zM219 323h1v1h-1zM220 324h1v1h-1zM220 325h1v1h-1zM221 326h1v1h-1zM222 327h1v1h-1zM223 328h1v1h-1zM223 329h1v1h-1zM224 330h1v1h-1zM225 331h1v1h-1zM225 332h1v1h-1zM226 333h1v1h-1zM227 334h1v1h-1zM228 335h1v1h-1zM228 336h1v1h-1zM229 337h1v1h-1zM230 338h1v1h-1zM230 339h1v1h-1zM231 340h1v1h-1zM232 341h1v1h-1zM233 342h1v1h-1zM233 343h1v1h-1zM234 344h1v1h-1zM235 345h1v1h-1zM236 346h1v1h-1zM236 347h1v1h-1zM237 348h1v1h-1zM238 349h1v1h-1zM238 350h1v1h-1zM239 351h1v1h-1zM240 352h1v1h-1zM241 353h1v1h-1zM241 354h1v1h-1zM242 355h1v1h-1zM243 356h1v1h-1zM244 357h1v1h-1zM244 358h1v1h-1zM245 359h1v1h-1zM246 360h1v1h-1zM246 361h1v1h-1zM247 362h1v1h-1zM248 363h1v1h-1zM249 364h1v1h-1zM249 365h1v1h-1zM250 366h1v1h-1zM251 367h1v1h-1zM251 368h1v1h-1zM252 369h1v1h-1zM253 370h1v1h-1zM254 371h1v1h-1zM254 372h1v1h-1zM255 373h1v1h-1zM256 374h1v1h-1zM257 375h1v1h-1zM257 376h1v1h-1zM258 377h1v1h-1zM259 378h1v1h-1zM259 379h1v1h-1zM260 380h1v1h-1zM261 381h1v1h-1zM262 382h1v1h-1zM262 383h1v1h-1zM263 384h1v1h-1zM264 385h1v1h-1zM265 386h1v1h-1zM265 387h1v1h-1zM266 388h1v1h-1zM267 389h1v1h-1zM267 390h1v1h-1zM268 391h1v1h-1zM269 392h1v1h-1zM270 393h1v1h-1zM270 394h1v1h-1zM271 395h1v1h-1zM272 396h1v1h-1zM272 397h1v1h-1zM273 398h1v1h-1zM274 399h1v1h-1zM275 400h1v1h-1zM275 401h1v1h-1zM276 402h1v1h-1zM277 403h1v1h-1zM278 404h1v1h-1zM278 405h1v1h-1zM279 406h1v1h-1zM280 407h1v1h-1zM280 408h1v1h-1zM281 409h1v1h-1zM282 410h1v1h-1zM283 411h1v1h-1zM283 412h1v1h-1zM284 413h1v1h-1zM285 414h1v1h-1zM286 415h1v1h-1zM286 416h1v1h-1zM287 417h1v1h-1zM288 418h1v1h-1zM288 419h1v1h-1zM289 420h1v1h-1zM290 421h1v1h-1zM291 422h1v1h-1zM291 423h1v1h-1zM292 424h1v1h-1zM293 425h1v1h-1zM293 426h1v1h-1zM294 427h1v1h-1zM295 428h1v1h-1zM296 429h1v1h-1zM296 430h1v1h-1zM297 431h1v1h-1zM298 432h1v1h-1zM299 433h1v1h-1zM299 434h1v1h-1zM300 435h1v1h-1zM301 436h1v1h-1zM301 437h1v1h-1zM302 438h1v1h-1zM303 439h1v1h-1zM304 440h1v1h-1zM304 441h1v1h-1zM305 442h1v1h-1zM306 443h1v1h-1zM307 444h1v1h-1zM307 445h1v1h-1zM308 446h1v1h-1zM309 447h1v1h-1zM309 448h1v1h-1zM310 449h1v1h-1zM311 450h1v1h-1zM312 451h1v1h-1zM312 452h1v1h-1zM313 453h1v1h-1zM314 454h1v1h-1zM314 455h1v1h-1zM315 456h1v1h-1zM316 457h1v1h-1zM317 458h1v1h-1zM317 459h1v1h-1zM318 460h1v1h-1zM319 461h1v1h-1zM320 462h1v1h-1zM320 463h1v1h-1zM321 464h1v1h-1zM322 465h1v1h-1zM322 466h1v1h-1zM323 467h1v1h-1zM324 468h1v1h-1zM325 469h1v1h-1zM325 470h1v1h-1zM326 471h1v1h-1zM327 472h1v1h-1zM328 473h1v1h-1zM328 474h1v1h-1zM329 475h1v1h-1zM330 476h1v1h-1zM330 477h1v1h-1zM331 478h1v1h-1zM332 479h1v1h-1zM333 480h1v1h-1zM333 481h1v1h-1zM334 482h1v1h-1zM335 483h1v1h-1zM335 484h1v1h-1zM336 485h1v1h-1zM337 486h1v1h-1zM338 487h1v1h-1zM338 488h1v1h-1zM339 489h1v1h-1zM340 490h1v1h-1zM341 491h1v1h-1zM341 492h1v1h-1zM342 493h1v1h-1zM343 494h1v1h-1zM343 495h1v1h-1zM344 496h1v1h-1zM345 497h1v1h-1zM346 498h1v1h-1zM346 499h1v1h-1zM347 500h1v1h-1zM348 501h1v1h-1zM349 502h1v1h-1zM349 503h1v1h-1zM350 504h1v1h-1zM351 505h1v1h-1zM351 506h1v1h-1zM352 507h1v1h-1zM353 508h1v1h-1zM354 509h1v1h-1zM354 510h1v1h-1zM355 511h1v1h-1zM356 512h1v1h-1zM356 513h1v1h-1zM357 514h1v1h-1zM358 515h1v1h-1zM359 516h1v1h-1zM359 517h1v1h-1zM360 518h1v1h-1zM361 519h1v1h-1zM362 520h1v1h-1zM362 521h1v1h-1zM363 522h1v1h-1zM364 523h1v1h-1zM364 524h1v1h-1zM365 525h1v1h-1zM366 526h1v1h-1zM367 527h1v1h-1zM367 528h1v1h-1zM368 529h1v1h-1zM369 530h1v1h-1zM370 531h1v1h-1zM370 532h1v1h-1zM371 533h1v1h-1zM372 534h1v1h-1zM372 535h1v1h-1zM373 536h1v1h-1zM374 537h1v1h-1zM375 538h1v1h-1zM375 539h1v1h-1zM376 540h1v1h-1zM377 541h1v1h-1zM377 542h1v1h-1zM378 543h1v1h-1zM379 544h1v1h-1zM380 545h1v1h-1zM380 546h1v1h-1zM381 547h1v1h-1zM382 548h1v1h-1zM383 549h1v1h-1zM383 550h1v1h-1zM384 551h1v1h-1zM385 552h1v1h-1zM385 553h1v1h-1zM386 554h1v1h-1zM387 555h1v1h-1zM388 556h1v1h-1zM388 557h1v1h-1zM389 558h1v1h-1zM390 559h1v1h-1zM391 560h1v1h-1zM391 561h1v1h-1zM392 562h1v1h-1zM393 563h1v1h-1zM393 564h1v1h-1zM394 565h1v1h-1zM395 566h1v1h-1zM396 567h1v1h-1zM396 568h1v1h-1zM397 569h1v1h-1zM398 570h1v1h-1zM398 571h1v1h-1zM399 572h1v1h-1zM400 573h1v1h-1zM401 574h1v1h-1zM401 575h1v1h-1zM402 576h1v1h-1zM403 577h1v1h-1zM404 578h1v1h-1zM404 579h1v1h-1zM405 580h1v1h-1zM165 239h1v1h-1zM166 240h1v1h-1zM167 241h2v1h-2zM169 242h1v1h-1zM170 243h1v1h-1zM171 244h1v1h-1zM172 245h1v1h-1zM173 246h2v1h-2zM175 247h1v1h-1zM176 248h1v1h-1zM177 249h1v1h-1zM178 250h2v1h-2zM180 251h1v1h-1zM181 252h1v1h-1zM182 253h1v1h-1zM183 254h2v1h-2zM185 255h1v1h-1zM186 256h1v1h-1zM187 257h1v1h-1zM188 258h1v1h-1zM189 259h2v1h-2zM191 260h1v1h-1zM192 261h1v1h-1zM193 262h1v1h-1zM194 263h2v1h-2zM196 264h1v1h-1zM197 265h1v1h-1zM198 266h1v1h-1zM199 267h2v1h-2zM201 268h1v1h-1zM202 269h1v1h-1zM203 270h1v1h-1zM204 271h1v1h-1zM205 272h2v1h-2zM207 273h1v1h-1zM208 274h1v1h-1zM209 275h1v1h-1zM210 276h2v1h-2zM212 277h1v1h-1zM213 278h1v1h-1zM214 279h1v1h-1zM215 280h1v1h-1zM216 281h2v1h-2zM218 282h1v1h-1zM219 283h1v1h-1zM220 284h1v1h-1zM221 285h2v1h-2zM223 286h1v1h-1zM224 287h1v1h-1zM225 288h1v1h-1zM226 289h2v1h-2zM228 290h1v1h-1zM229 291h1v1h-1zM230 292h1v1h-1zM231 293h1v1h-1zM232 294h2v1h-2zM234 295h1v1h-1zM235 296h1v1h-1zM236 297h1v1h-1zM237 298h2v1h-2zM239 299h1v1h-1zM240 300h1v1h-1zM241 301h1v1h-1zM242 302h2v1h-2zM244 303h1v1h-1zM245 304h1v1h-1zM246 305h1v1h-1zM247 306h1v1h-1zM248 307h2v1h-2zM250 308h1v1h-1zM251 309h1v1h-1zM252 310h1v1h-1zM253 311h2v1h-2zM255 312h1v1h-1zM256 313h1v1h-1zM257 314h1v1h-1zM258 315h2v1h-2zM260 316h1v1h-1zM261 317h1v1h-1zM262 318h1v1h-1zM263 319h1v1h-1zM264 320h2v1h-2zM266 321h1v1h-1zM267 322h1v1h-1zM268 323h1v1h-1zM269 324h2v1h-2zM271 325h1v1h-1zM272 326h1v1h-1zM273 327h1v1h-1zM274 328h1v1h-1zM275 329h2v1h-2zM277 330h1v1h-1zM278 331h1v1h-1zM279 332h1v1h-1zM280 333h2v1h-2zM282 334h1v1h-1zM283 335h1v1h-1zM284 336h1v1h-1zM285 337h2v1h-2zM287 338h1v1h-1zM288 339h1v1h-1zM289 340h1v1h-1zM290 341h1v1h-1zM291 342h2v1h-2zM293 343h1v1h-1zM294 344h1v1h-1zM295 345h1v1h-1zM296 346h2v1h-2zM298 347h1v1h-1zM299 348h1v1h-1zM300 349h1v1h-1zM301 350h2v1h-2zM303 351h1v1h-1zM304 352h1v1h-1zM305 353h1v1h-1zM306 354h1v1h-1zM307 355h2v1h-2zM309 356h1v1h-1zM310 357h1v1h-1zM311 358h1v1h-1zM312 359h2v1h-2zM314 360h1v1h-1zM315 361h1v1h-1zM316 362h1v1h-1zM317 363h1v1h-1zM318 364h2v1h-2zM320 365h1v1h-1zM321 366h1v1h-1zM322 367h1v1h-1zM323 368h2v1h-2zM325 369h1v1h-1zM326 370h1v1h-1zM327 371h1v1h-1zM328 372h2v1h-2zM330 373h1v1h-1zM331 374h1v1h-1zM332 375h1v1h-1zM333 376h1v1h-1zM334 377h2v1h-2zM336 378h1v1h-1zM337 379h1v1h-1zM338 380h1v1h-1zM339 381h2v1h-2zM341 382h1v1h-1zM342 383h1v1h-1zM343 384h1v1h-1zM344 385h2v1h-2zM346 386h1v1h-1zM347 387h1v1h-1zM348 388h1v1h-1zM349 389h1v1h-1zM350 390h2v1h-2zM352 391h1v1h-1zM353 392h1v1h-1zM354 393h1v1h-1zM355 394h2v1h-2zM357 395h1v1h-1zM358 396h1v1h-1zM359 397h1v1h-1zM360 398h2v1h-2zM362 399h1v1h-1zM363 400h1v1h-1zM364 401h1v1h-1zM365 402h1v1h-1zM366 403h2v1h-2zM368 404h1v1h-1zM369 405h1v1h-1zM370 406h1v1h-1zM371 407h2v1h-2zM373 408h1v1h-1zM374 409h1v1h-1zM375 410h1v1h-1zM376 411h1v1h-1zM377 412h2v1h-2zM379 413h1v1h-1zM380 414h1v1h-1zM381 415h1v1h-1zM382 416h2v1h-2zM384 417h1v1h-1zM385 418h1v1h-1zM386 419h1v1h-1zM387 420h2v1h-2zM389 421h1v1h-1zM390 422h1v1h-1zM391 423h1v1h-1zM392 424h1v1h-1zM393 425h2v1h-2zM395 426h1v1h-1zM396 427h1v1h-1zM397 428h1v1h-1zM398 429h2v1h-2zM400 430h1v1h-1zM401 431h1v1h-1zM402 432h1v1h-1zM403 433h2v1h-2zM405 434h1v1h-1zM406 435h1v1h-1zM407 436h1v1h-1zM408 437h1v1h-1zM409 438h2v1h-2zM411 439h1v1h-1zM412 440h1v1h-1zM413 441h1v1h-1zM414 442h2v1h-2zM416 443h1v1h-1zM417 444h1v1h-1zM418 445h1v1h-1zM419 446h1v1h-1zM420 447h2v1h-2zM422 448h1v1h-1zM423 449h1v1h-1zM424 450h1v1h-1zM425 451h2v1h-2zM427 452h1v1h-1zM428 453h1v1h-1zM429 454h1v1h-1zM430 455h2v1h-2zM432 456h1v1h-1zM433 457h1v1h-1zM434 458h1v1h-1zM435 459h1v1h-1zM436 460h2v1h-2zM438 461h1v1h-1zM439 462h1v1h-1zM440 463h1v1h-1zM441 464h2v1h-2zM443 465h1v1h-1zM444 466h1v1h-1zM445 467h1v1h-1zM446 468h2v1h-2zM448 469h1v1h-1zM449 470h1v1h-1zM450 471h1v1h-1zM451 472h1v1h-1zM452 473h2v1h-2zM454 474h1v1h-1zM455 475h1v1h-1zM456 476h1v1h-1zM457 477h2v1h-2zM459 478h1v1h-1zM460 479h1v1h-1zM461 480h1v1h-1zM462 481h2v1h-2zM464 482h1v1h-1zM465 483h1v1h-1zM466 484h1v1h-1zM467 485h1v1h-1zM468 486h2v1h-2zM470 487h1v1h-1zM471 488h1v1h-1zM472 489h1v1h-1zM473 490h2v1h-2zM475 491h1v1h-1zM476 492h1v1h-1zM477 493h1v1h-1zM478 494h1v1h-1zM479 495h2v1h-2zM481 496h1v1h-1zM482 497h1v1h-1zM483 498h1v1h-1zM484 499h2v1h-2zM486 500h1v1h-1zM487 501h1v1h-1zM488 502h1v1h-1zM489 503h2v1h-2zM491 504h1v1h-1zM492 505h1v1h-1zM493 506h1v1h-1zM494 507h1v1h-1zM495 508h2v1h-2zM497 509h1v1h-1zM498 510h1v1h-1zM499 511h1v1h-1zM500 512h2v1h-2zM502 513h1v1h-1zM503 514h1v1h-1zM504 515h1v1h-1zM505 516h2v1h-2zM507 517h1v1h-1zM508 518h1v1h-1zM509 519h1v1h-1zM510 520h1v1h-1zM511 521h2v1h-2zM513 522h1v1h-1zM514 523h1v1h-1zM515 524h1v1h-1zM516 525h2v1h-2zM518 526h1v1h-1zM519 527h1v1h-1zM520 528h1v1h-1zM521 529h1v1h-1zM522 530h2v1h-2zM524 531h1v1h-1zM525 532h1v1h-1zM526 533h1v1h-1zM527 534h2v1h-2zM529 535h1v1h-1zM530 536h1v1h-1zM531 537h1v1h-1zM532 538h2v1h-2zM534 539h1v1h-1zM535 540h1v1h-1zM536 541h1v1h-1zM537 542h1v1h-1zM538 543h2v1h-2zM540 544h1v1h-1zM541 545h1v1h-1zM542 546h1v1h-1zM543 547h2v1h-2zM545 548h1v1h-1zM546 549h1v1h-1zM547 550h1v1h-1zM548 551h2v1h-2zM550 552h1v1h-1zM551 553h1v1h-1zM552 554h1v1h-1zM553 555h1v1h-1zM554 556h2v1h-2zM556 557h1v1h-1zM557 558h1v1h-1zM558 559h1v1h-1zM559 560h2v1h-2zM561 561h1v1h-1zM562 562h1v1h-1zM563 563h1v1h-1zM564 564h2v1h-2zM566 565h1v1h-1zM567 566h1v1h-1zM568 567h1v1h-1zM569 568h1v1h-1zM570 569h2v1h-2zM572 570h1v1h-1zM573 571h1v1h-1zM574 572h1v1h-1zM575 573h2v1h-2zM577 574h1v1h-1zM578 575h1v1h-1zM579 576h1v1h-1zM580 577h1v1h-1zM581 578h2v1h-2zM583 579h1v1h-1zM584 580h1v1h-1zM585 581h1v1h-1zM586 582h2v1h-2zM588 583h1v1h-1zM589 584h1v1h-1zM590 585h1v1h-1zM591 586h2v1h-2zM593 587h1v1h-1zM594 588h1v1h-1zM595 589h1v1h-1zM596 590h1v1h-1zM597 591h2v1h-2zM599 592h1v1h-1zM600 593h1v1h-1zM601 594h1v1h-1zM602 595h2v1h-2zM604 596h1v1h-1zM605 597h1v1h-1zM606 598h1v1h-1zM607 599h2v1h-2zM609 600h1v1h-1zM610 601h1v1h-1zM611 602h1v1h-1zM612 603h1v1h-1zM613 604h2v1h-2zM615 605h1v1h-1zM616 606h1v1h-1zM617 607h1v1h-1zM618 608h2v1h-2zM620 609h1v1h-1zM621 610h1v1h-1zM622 611h1v1h-1zM623 612h1v1h-1zM624 613h2v1h-2zM626 614h1v1h-1zM627 615h1v1h-1zM628 616h1v1h-1zM629 617h2v1h-2zM631 618h1v1h-1zM632 619h1v1h-1zM633 620h1v1h-1zM634 621h2v1h-2zM636 622h1v1h-1zM637 623h1v1h-1zM638 624h1v1h-1zM639 625h1v1h-1zM640 626h2v1h-2zM642 627h1v1h-1zM643 628h1v1h-1zM644 629h1v1h-1zM645 630h2v1h-2zM647 631h1v1h-1zM648 632h1v1h-1zM649 633h1v1h-1zM650 634h2v1h-2zM652 635h1v1h-1zM653 636h1v1h-1zM654 637h1v1h-1zM655 638h1v1h-1zM656 639h2v1h-2zM658 640h1v1h-1zM659 641h1v1h-1zM660 642h1v1h-1zM661 643h2v1h-2zM663 644h1v1h-1zM664 645h1v1h-1zM665 646h1v1h-1zM666 647h2v1h-2zM668 648h1v1h-1zM669 649h1v1h-1zM670 650h1v1h-1zM671 651h1v1h-1zM672 652h2v1h-2zM674 653h1v1h-1zM675 654h1v1h-1zM676 655h1v1h-1zM677 656h2v1h-2zM679 657h1v1h-1zM680 658h1v1h-1zM681 659h1v1h-1zM682 660h1v1h-1zM683 661h2v1h-2zM685 662h1v1h-1zM686 663h1v1h-1zM687 664h1v1h-1zM688 665h2v1h-2zM690 666h1v1h-1zM691 667h1v1h-1zM692 668h1v1h-1zM693 669h2v1h-2zM695 670h1v1h-1zM696 671h1v1h-1zM697 672h1v1h-1zM698 673h1v1h-1zM699 674h2v1h-2zM701 675h1v1h-1zM702 676h1v1h-1zM703 677h1v1h-1zM704 678h2v1h-2zM706 679h1v1h-1zM707 680h1v1h-1zM708 681h1v1h-1zM709 682h2v1h-2zM711 683h1v1h-1zM712 684h1v1h-1zM713 685h1v1h-1zM714 686h1v1h-1zM715 687h2v1h-2zM717 688h1v1h-1zM718 689h1v1h-1zM719 690h1v1h-1zM720 691h2v1h-2zM722 692h1v1h-1zM723 693h1v1h-1zM724 694h1v1h-1zM725 695h1v1h-1zM726 696h2v1h-2zM728 697h1v1h-1zM729 698h1v1h-1zM730 699h1v1h-1zM731 700h2v1h-2zM733 701h1v1h-1zM734 702h1v1h-1zM735 703h1v1h-1zM736 704h2v1h-2zM738 705h1v1h-1zM739 706h1v1h-1zM740 707h1v1h-1zM741 708h1v1h-1zM742 709h2v1h-2zM744 710h1v1h-1zM745 711h1v1h-1zM746 712h1v1h-1zM747 713h2v1h-2zM749 714h1v1h-1zM750 715h1v1h-1zM751 716h1v1h-1zM752 717h2v1h-2zM754 718h1v1h-1zM755 719h1v1h-1zM756 720h1v1h-1zM757 721h1v1h-1zM758 722h2v1h-2zM760 723h1v1h-1zM761 724h1v1h-1zM762 725h1v1h-1zM763 726h2v1h-2zM765 727h1v1h-1zM766 728h1v1h-1zM767 729h1v1h-1zM768 730h2v1h-2zM770 731h1v1h-1zM771 732h1v1h-1zM772 733h1v1h-1zM773 734h1v1h-1zM774 735h2v1h-2zM776 736h1v1h-1zM777 737h1v1h-1zM1172 187h3v1h-3zM1168 188h4v1h-4zM1163 189h5v1h-5zM1158 190h5v1h-5zM1154 191h4v1h-4zM1149 192h5v1h-5zM1144 193h5v1h-5zM1140 194h4v1h-4zM1135 195h5v1h-5zM1130 196h5v1h-5zM1126 197h4v1h-4zM1121 198h5v1h-5zM1116 199h5v1h-5zM1112 200h4v1h-4zM1107 201h5v1h-5zM1102 202h5v1h-5zM1098 203h4v1h-4zM1093 204h5v1h-5zM1088 205h5v1h-5zM1084 206h4v1h-4zM1079 207h5v1h-5zM1074 208h5v1h-5zM1070 209h4v1h-4zM1065 210h5v1h-5zM1060 211h5v1h-5zM1056 212h4v1h-4zM1051 213h5v1h-5zM1046 214h5v1h-5zM1042 215h4v1h-4zM1037 216h5v1h-5zM1032 217h5v1h-5zM1028 218h4v1h-4zM1023 219h5v1h-5zM1019 220h4v1h-4zM1014 221h5v1h-5zM1009 222h5v1h-5zM1005 223h4v1h-4zM1000 224h5v1h-5zM995 225h5v1h-5zM991 226h4v1h-4zM986 227h5v1h-5zM981 228h5v1h-5zM977 229h4v1h-4zM972 230h5v1h-5zM967 231h5v1h-5zM963 232h4v1h-4zM958 233h5v1h-5zM953 234h5v1h-5zM949 235h4v1h-4zM944 236h5v1h-5zM939 237h5v1h-5zM935 238h4v1h-4zM930 239h5v1h-5zM925 240h5v1h-5zM921 241h4v1h-4zM916 242h5v1h-5zM911 243h5v1h-5zM907 244h4v1h-4zM902 245h5v1h-5zM897 246h5v1h-5zM893 247h4v1h-4zM888 248h5v1h-5zM884 249h4v1h-4zM879 250h5v1h-5zM874 251h5v1h-5zM870 252h4v1h-4zM865 253h5v1h-5zM860 254h5v1h-5zM856 255h4v1h-4zM851 256h5v1h-5zM846 257h5v1h-5zM842 258h4v1h-4zM837 259h5v1h-5zM832 260h5v1h-5zM828 261h4v1h-4zM823 262h5v1h-5zM818 263h5v1h-5zM814 264h4v1h-4zM809 265h5v1h-5zM804 266h5v1h-5zM800 267h4v1h-4zM795 268h5v1h-5zM790 269h5v1h-5zM786 270h4v1h-4zM781 271h5v1h-5zM776 272h5v1h-5zM772 273h4v1h-4zM767 274h5v1h-5zM762 275h5v1h-5zM758 276h4v1h-4zM753 277h5v1h-5zM748 278h5v1h-5zM744 279h4v1h-4zM739 280h5v1h-5zM735 281h4v1h-4zM730 282h5v1h-5zM725 283h5v1h-5zM721 284h4v1h-4zM716 285h5v1h-5zM711 286h5v1h-5zM707 287h4v1h-4zM702 288h5v1h-5zM697 289h5v1h-5zM693 290h4v1h-4zM688 291h5v1h-5zM683 292h5v1h-5zM679 293h4v1h-4zM674 294h5v1h-5zM669 295h5v1h-5zM665 296h4v1h-4zM660 297h5v1h-5zM655 298h5v1h-5zM651 299h4v1h-4zM646 300h5v1h-5zM641 301h5v1h-5zM637 302h4v1h-4zM632 303h5v1h-5zM627 304h5v1h-5zM623 305h4v1h-4zM618 306h5v1h-5zM613 307h5v1h-5zM609 308h4v1h-4zM604 309h5v1h-5zM600 310h4v1h-4zM595 311h5v1h-5zM590 312h5v1h-5zM586 313h4v1h-4zM581 314h5v1h-5zM576 315h5v1h-5zM572 316h4v1h-4zM567 317h5v1h-5zM562 318h5v1h-5zM558 319h4v1h-4zM553 320h5v1h-5zM548 321h5v1h-5zM544 322h4v1h-4zM539 323h5v1h-5zM534 324h5v1h-5zM530 325h4v1h-4zM525 326h5v1h-5zM520 327h5v1h-5zM516 328h4v1h-4zM511 329h5v1h-5zM506 330h5v1h-5zM502 331h4v1h-4zM497 332h5v1h-5zM492 333h5v1h-5zM488 334h4v1h-4zM483 335h5v1h-5zM478 336h5v1h-5zM474 337h4v1h-4zM469 338h5v1h-5zM464 339h5v1h-5zM460 340h4v1h-4zM455 341h5v1h-5zM451 342h4v1h-4zM446 343h5v1h-5zM441 344h5v1h-5zM437 345h4v1h-4zM432 346h5v1h-5zM427 347h5v1h-5zM423 348h4v1h-4zM418 349h5v1h-5zM413 350h5v1h-5zM409 351h4v1h-4zM404 352h5v1h-5zM399 353h5v1h-5zM395 354h4v1h-4zM390 355h5v1h-5zM385 356h5v1h-5zM381 357h4v1h-4zM376 358h5v1h-5zM371 359h5v1h-5zM367 360h4v1h-4zM362 361h5v1h-5zM357 362h5v1h-5zM353 363h4v1h-4zM348 364h5v1h-5zM343 365h5v1h-5zM339 366h4v1h-4zM334 367h5v1h-5zM329 368h5v1h-5zM325 369h4v1h-4zM322 370h3v1h-3zM1132 262h2v1h-2zM1128 263h4v1h-4zM1124 264h4v1h-4zM1120 265h4v1h-4zM1117 266h3v1h-3zM1113 267h4v1h-4zM1109 268h4v1h-4zM1105 269h4v1h-4zM1102 270h3v1h-3zM1098 271h4v1h-4zM1094 272h4v1h-4zM1090 273h4v1h-4zM1087 274h3v1h-3zM1083 275h4v1h-4zM1079 276h4v1h-4zM1075 277h4v1h-4zM1072 278h3v1h-3zM1068 279h4v1h-4zM1064 280h4v1h-4zM1060 281h4v1h-4zM1056 282h4v1h-4zM1053 283h3v1h-3zM1049 284h4v1h-4zM1045 285h4v1h-4zM1041 286h4v1h-4zM1038 287h3v1h-3zM1034 288h4v1h-4zM1030 289h4v1h-4zM1026 290h4v1h-4zM1023 291h3v1h-3zM1019 292h4v1h-4zM1015 293h4v1h-4zM1011 294h4v1h-4zM1008 295h3v1h-3zM1004 296h4v1h-4zM1000 297h4v1h-4zM996 298h4v1h-4zM993 299h3v1h-3zM989 300h4v1h-4zM985 301h4v1h-4zM981 302h4v1h-4zM978 303h3v1h-3zM974 304h4v1h-4zM970 305h4v1h-4zM966 306h4v1h-4zM963 307h3v1h-3zM959 308h4v1h-4zM955 309h4v1h-4zM951 310h4v1h-4zM948 311h3v1h-3zM944 312h4v1h-4zM940 313h4v1h-4zM936 314h4v1h-4zM933 315h3v1h-3zM929 316h4v1h-4zM925 317h4v1h-4zM921 318h4v1h-4zM918 319h3v1h-3zM914 320h4v1h-4zM910 321h4v1h-4zM906 322h4v1h-4zM902 323h4v1h-4zM899 324h3v1h-3zM895 325h4v1h-4zM891 326h4v1h-4zM887 327h4v1h-4zM884 328h3v1h-3zM880 329h4v1h-4zM876 330h4v1h-4zM872 331h4v1h-4zM869 332h3v1h-3zM865 333h4v1h-4zM861 334h4v1h-4zM857 335h4v1h-4zM854 336h3v1h-3zM850 337h4v1h-4zM846 338h4v1h-4zM842 339h4v1h-4zM839 340h3v1h-3zM835 341h4v1h-4zM831 342h4v1h-4zM827 343h4v1h-4zM824 344h3v1h-3zM820 345h4v1h-4zM816 346h4v1h-4zM812 347h4v1h-4zM809 348h3v1h-3zM805 349h4v1h-4zM801 350h4v1h-4zM797 351h4v1h-4zM794 352h3v1h-3zM790 353h4v1h-4zM786 354h4v1h-4zM782 355h4v1h-4zM779 356h3v1h-3zM775 357h4v1h-4zM771 358h4v1h-4zM767 359h4v1h-4zM764 360h3v1h-3zM760 361h4v1h-4zM756 362h4v1h-4zM752 363h4v1h-4zM748 364h4v1h-4zM745 365h3v1h-3zM741 366h4v1h-4zM737 367h4v1h-4zM733 368h4v1h-4zM730 369h3v1h-3zM726 370h4v1h-4zM722 371h4v1h-4zM718 372h4v1h-4zM715 373h3v1h-3zM711 374h4v1h-4zM707 375h4v1h-4zM703 376h4v1h-4zM700 377h3v1h-3zM696 378h4v1h-4zM692 379h4v1h-4zM688 380h4v1h-4zM685 381h3v1h-3zM681 382h4v1h-4zM677 383h4v1h-4zM673 384h4v1h-4zM670 385h3v1h-3zM666 386h4v1h-4zM662 387h4v1h-4zM658 388h4v1h-4zM655 389h3v1h-3zM651 390h4v1h-4zM647 391h4v1h-4zM643 392h4v1h-4zM640 393h3v1h-3zM636 394h4v1h-4zM632 395h4v1h-4zM628 396h4v1h-4zM625 397h3v1h-3zM621 398h4v1h-4zM617 399h4v1h-4zM613 400h4v1h-4zM610 401h3v1h-3zM606 402h4v1h-4zM602 403h4v1h-4zM598 404h4v1h-4zM594 405h4v1h-4zM591 406h3v1h-3zM587 407h4v1h-4zM583 408h4v1h-4zM579 409h4v1h-4zM576 410h3v1h-3zM572 411h4v1h-4zM568 412h4v1h-4zM564 413h4v1h-4zM561 414h3v1h-3zM557 415h4v1h-4zM553 416h4v1h-4zM549 417h4v1h-4zM546 418h3v1h-3zM542 419h4v1h-4zM538 420h4v1h-4zM534 421h4v1h-4zM531 422h3v1h-3zM527 423h4v1h-4zM523 424h4v1h-4zM519 425h4v1h-4zM516 426h3v1h-3zM512 427h4v1h-4zM508 428h4v1h-4zM504 429h4v1h-4zM501 430h3v1h-3zM497 431h4v1h-4zM493 432h4v1h-4zM489 433h4v1h-4zM486 434h3v1h-3zM482 435h4v1h-4zM478 436h4v1h-4zM474 437h4v1h-4zM471 438h3v1h-3zM467 439h4v1h-4zM463 440h4v1h-4zM459 441h4v1h-4zM456 442h3v1h-3zM452 443h4v1h-4zM448 444h4v1h-4zM444 445h4v1h-4zM440 446h4v1h-4zM437 447h3v1h-3zM433 448h4v1h-4zM429 449h4v1h-4zM425 450h4v1h-4zM422 451h3v1h-3zM418 452h4v1h-4zM414 453h4v1h-4zM410 454h4v1h-4zM407 455h3v1h-3zM403 456h4v1h-4zM399 457h4v1h-4zM395 458h4v1h-4zM392 459h3v1h-3zM388 460h4v1h-4zM384 461h4v1h-4zM380 462h4v1h-4zM378 463h2v1h-2zM460 572h1v1h-1zM461 573h1v1h-1zM462 574h1v1h-1zM463 575h1v1h-1zM464 576h1v1h-1zM465 577h1v1h-1zM466 578h1v1h-1zM467 579h1v1h-1zM468 580h2v1h-2zM470 581h1v1h-1zM471 582h1v1h-1zM472 583h1v1h-1zM473 584h1v1h-1zM474 585h1v1h-1zM475 586h1v1h-1zM476 587h1v1h-1zM477 588h1v1h-1zM478 589h1v1h-1zM479 590h1v1h-1zM480 591h1v1h-1zM481 592h1v1h-1zM482 593h1v1h-1zM483 594h1v1h-1zM484 595h2v1h-2zM486 596h1v1h-1zM487 597h1v1h-1zM488 598h1v1h-1zM489 599h1v1h-1zM490 600h1v1h-1zM491 601h1v1h-1zM492 602h1v1h-1zM1377 239h1v1h-1zM1375 240h2v1h-2zM1374 241h1v1h-1zM1372 242h2v1h-2zM1371 243h1v1h-1zM1370 244h1v1h-1zM1368 245h2v1h-2zM1367 246h1v1h-1zM1365 247h2v1h-2zM1364 248h1v1h-1zM1362 249h2v1h-2zM1361 250h1v1h-1zM1360 251h1v1h-1zM1358 252h2v1h-2zM1357 253h1v1h-1zM1355 254h2v1h-2zM1354 255h1v1h-1zM1352 256h2v1h-2zM1351 257h1v1h-1zM1350 258h1v1h-1zM1348 259h2v1h-2zM1347 260h1v1h-1zM1345 261h2v1h-2zM1344 262h1v1h-1zM1342 263h2v1h-2zM1341 264h1v1h-1zM1340 265h1v1h-1zM1338 266h2v1h-2zM1337 267h1v1h-1zM1335 268h2v1h-2zM1334 269h1v1h-1zM1332 270h2v1h-2zM1331 271h1v1h-1zM1330 272h1v1h-1zM1328 273h2v1h-2zM1327 274h1v1h-1zM1325 275h2v1h-2zM1324 276h1v1h-1zM1322 277h2v1h-2zM1321 278h1v1h-1zM1320 279h1v1h-1zM1318 280h2v1h-2zM1317 281h1v1h-1zM1315 282h2v1h-2zM1314 283h1v1h-1zM1312 284h2v1h-2zM1311 285h1v1h-1zM1310 286h1v1h-1zM1308 287h2v1h-2zM1307 288h1v1h-1zM1305 289h2v1h-2zM1304 290h1v1h-1zM1302 291h2v1h-2zM1301 292h1v1h-1zM1300 293h1v1h-1zM1298 294h2v1h-2zM1297 295h1v1h-1zM1295 296h2v1h-2zM1294 297h1v1h-1zM1292 298h2v1h-2zM1291 299h1v1h-1zM1290 300h1v1h-1zM1288 301h2v1h-2zM1287 302h1v1h-1zM1285 303h2v1h-2zM1284 304h1v1h-1zM1282 305h2v1h-2zM1281 306h1v1h-1zM1280 307h1v1h-1zM1278 308h2v1h-2zM1277 309h1v1h-1zM1275 310h2v1h-2zM1274 311h1v1h-1zM1272 312h2v1h-2zM1271 313h1v1h-1zM1270 314h1v1h-1zM1268 315h2v1h-2zM1267 316h1v1h-1zM1265 317h2v1h-2zM1264 318h1v1h-1zM1262 319h2v1h-2zM1261 320h1v1h-1zM1260 321h1v1h-1zM1258 322h2v1h-2zM1257 323h1v1h-1zM1255 324h2v1h-2zM1254 325h1v1h-1zM1252 326h2v1h-2zM1251 327h1v1h-1zM1250 328h1v1h-1zM1248 329h2v1h-2zM1247 330h1v1h-1zM1245 331h2v1h-2zM1244 332h1v1h-1zM1242 333h2v1h-2zM1241 334h1v1h-1zM1240 335h1v1h-1zM1238 336h2v1h-2zM1237 337h1v1h-1zM1235 338h2v1h-2zM1234 339h1v1h-1zM1232 340h2v1h-2zM1231 341h1v1h-1zM1230 342h1v1h-1zM1228 343h2v1h-2zM1227 344h1v1h-1zM1225 345h2v1h-2zM1224 346h1v1h-1zM1222 347h2v1h-2zM1221 348h1v1h-1zM1220 349h1v1h-1zM1218 350h2v1h-2zM1217 351h1v1h-1zM1215 352h2v1h-2zM1214 353h1v1h-1zM1212 354h2v1h-2zM1211 355h1v1h-1zM1210 356h1v1h-1zM1208 357h2v1h-2zM1207 358h1v1h-1zM1205 359h2v1h-2zM1204 360h1v1h-1zM1202 361h2v1h-2zM1201 362h1v1h-1zM1200 363h1v1h-1zM1198 364h2v1h-2zM1197 365h1v1h-1zM1195 366h2v1h-2zM1194 367h1v1h-1zM1192 368h2v1h-2zM1191 369h1v1h-1zM1190 370h1v1h-1zM1188 371h2v1h-2zM1187 372h1v1h-1zM1185 373h2v1h-2zM1184 374h1v1h-1zM1182 375h2v1h-2zM1181 376h1v1h-1zM1180 377h1v1h-1zM1178 378h2v1h-2zM1177 379h1v1h-1zM1175 380h2v1h-2zM1174 381h1v1h-1zM1172 382h2v1h-2zM1171 383h1v1h-1zM1170 384h1v1h-1zM1168 385h2v1h-2zM1167 386h1v1h-1zM1165 387h2v1h-2zM1164 388h1v1h-1zM1162 389h2v1h-2zM1161 390h1v1h-1zM1160 391h1v1h-1zM1158 392h2v1h-2zM1157 393h1v1h-1zM1155 394h2v1h-2zM1154 395h1v1h-1zM1152 396h2v1h-2zM1151 397h1v1h-1zM1150 398h1v1h-1zM1148 399h2v1h-2zM1147 400h1v1h-1zM1145 401h2v1h-2zM1144 402h1v1h-1zM1142 403h2v1h-2zM1141 404h1v1h-1zM1140 405h1v1h-1zM1138 406h2v1h-2zM1137 407h1v1h-1zM1135 408h2v1h-2zM1134 409h1v1h-1zM1132 410h2v1h-2zM1131 411h1v1h-1zM1130 412h1v1h-1zM1128 413h2v1h-2zM1127 414h1v1h-1zM1125 415h2v1h-2zM1124 416h1v1h-1zM1122 417h2v1h-2zM1121 418h1v1h-1zM1120 419h1v1h-1zM1118 420h2v1h-2zM1117 421h1v1h-1zM1115 422h2v1h-2zM1114 423h1v1h-1zM1112 424h2v1h-2zM1111 425h1v1h-1zM1110 426h1v1h-1zM1108 427h2v1h-2zM1107 428h1v1h-1zM1105 429h2v1h-2zM1104 430h1v1h-1zM1102 431h2v1h-2zM1101 432h1v1h-1zM1100 433h1v1h-1zM1098 434h2v1h-2zM1097 435h1v1h-1zM1095 436h2v1h-2zM1094 437h1v1h-1zM1092 438h2v1h-2zM1091 439h1v1h-1zM1090 440h1v1h-1zM1088 441h2v1h-2zM1087 442h1v1h-1zM1085 443h2v1h-2zM1084 444h1v1h-1zM1082 445h2v1h-2zM1081 446h1v1h-1zM1080 447h1v1h-1zM1078 448h2v1h-2zM1077 449h1v1h-1zM1075 450h2v1h-2zM1074 451h1v1h-1zM1072 452h2v1h-2zM1071 453h1v1h-1zM1070 454h1v1h-1zM1068 455h2v1h-2zM1067 456h1v1h-1zM1065 457h2v1h-2zM1064 458h1v1h-1zM1062 459h2v1h-2zM1061 460h1v1h-1zM1060 461h1v1h-1zM1058 462h2v1h-2zM1057 463h1v1h-1zM1055 464h2v1h-2zM1054 465h1v1h-1zM1052 466h2v1h-2zM1051 467h1v1h-1zM1049 468h2v1h-2zM1048 469h1v1h-1zM1047 470h1v1h-1zM1045 471h2v1h-2zM1044 472h1v1h-1zM1042 473h2v1h-2zM1041 474h1v1h-1zM1039 475h2v1h-2zM1038 476h1v1h-1zM1037 477h1v1h-1zM1035 478h2v1h-2zM1034 479h1v1h-1zM1032 480h2v1h-2zM1031 481h1v1h-1zM1029 482h2v1h-2zM1028 483h1v1h-1zM1027 484h1v1h-1zM1025 485h2v1h-2zM1024 486h1v1h-1zM1022 487h2v1h-2zM1021 488h1v1h-1zM1019 489h2v1h-2zM1018 490h1v1h-1zM1017 491h1v1h-1zM1015 492h2v1h-2zM1014 493h1v1h-1zM1012 494h2v1h-2zM1011 495h1v1h-1zM1009 496h2v1h-2zM1008 497h1v1h-1zM1007 498h1v1h-1zM1005 499h2v1h-2zM1004 500h1v1h-1zM1002 501h2v1h-2zM1001 502h1v1h-1zM999 503h2v1h-2zM998 504h1v1h-1zM997 505h1v1h-1zM995 506h2v1h-2zM994 507h1v1h-1zM992 508h2v1h-2zM991 509h1v1h-1zM989 510h2v1h-2zM988 511h1v1h-1zM987 512h1v1h-1zM985 513h2v1h-2zM984 514h1v1h-1zM982 515h2v1h-2zM981 516h1v1h-1zM979 517h2v1h-2zM978 518h1v1h-1zM977 519h1v1h-1zM975 520h2v1h-2zM974 521h1v1h-1zM972 522h2v1h-2zM971 523h1v1h-1zM969 524h2v1h-2zM968 525h1v1h-1zM967 526h1v1h-1zM965 527h2v1h-2zM964 528h1v1h-1zM962 529h2v1h-2zM961 530h1v1h-1zM959 531h2v1h-2zM958 532h1v1h-1zM957 533h1v1h-1zM955 534h2v1h-2zM954 535h1v1h-1zM952 536h2v1h-2zM951 537h1v1h-1zM949 538h2v1h-2zM948 539h1v1h-1zM947 540h1v1h-1zM945 541h2v1h-2zM944 542h1v1h-1zM942 543h2v1h-2zM941 544h1v1h-1zM939 545h2v1h-2zM938 546h1v1h-1zM937 547h1v1h-1zM935 548h2v1h-2zM934 549h1v1h-1zM932 550h2v1h-2zM931 551h1v1h-1zM929 552h2v1h-2zM928 553h1v1h-1zM927 554h1v1h-1zM925 555h2v1h-2zM924 556h1v1h-1zM922 557h2v1h-2zM921 558h1v1h-1zM919 559h2v1h-2zM918 560h1v1h-1zM917 561h1v1h-1zM915 562h2v1h-2zM914 563h1v1h-1zM912 564h2v1h-2zM911 565h1v1h-1zM909 566h2v1h-2zM908 567h1v1h-1zM907 568h1v1h-1zM905 569h2v1h-2zM904 570h1v1h-1zM902 571h2v1h-2zM901 572h1v1h-1zM899 573h2v1h-2zM898 574h1v1h-1zM897 575h1v1h-1zM895 576h2v1h-2zM894 577h1v1h-1zM892 578h2v1h-2zM891 579h1v1h-1zM889 580h2v1h-2zM888 581h1v1h-1zM887 582h1v1h-1zM885 583h2v1h-2zM884 584h1v1h-1zM882 585h2v1h-2zM881 586h1v1h-1zM879 587h2v1h-2zM878 588h1v1h-1zM877 589h1v1h-1zM875 590h2v1h-2zM874 591h1v1h-1zM872 592h2v1h-2zM871 593h1v1h-1zM869 594h2v1h-2zM868 595h1v1h-1zM867 596h1v1h-1zM865 597h2v1h-2zM864 598h1v1h-1zM862 599h2v1h-2zM861 600h1v1h-1zM859 601h2v1h-2zM858 602h1v1h-1zM857 603h1v1h-1zM855 604h2v1h-2zM854 605h1v1h-1zM852 606h2v1h-2zM851 607h1v1h-1zM849 608h2v1h-2zM848 609h1v1h-1zM847 610h1v1h-1zM845 611h2v1h-2zM844 612h1v1h-1zM842 613h2v1h-2zM841 614h1v1h-1zM839 615h2v1h-2zM838 616h1v1h-1zM837 617h1v1h-1zM835 618h2v1h-2zM834 619h1v1h-1zM832 620h2v1h-2zM831 621h1v1h-1zM829 622h2v1h-2zM828 623h1v1h-1zM827 624h1v1h-1zM825 625h2v1h-2zM824 626h1v1h-1zM822 627h2v1h-2zM821 628h1v1h-1zM819 629h2v1h-2zM818 630h1v1h-1zM817 631h1v1h-1zM815 632h2v1h-2zM814 633h1v1h-1zM812 634h2v1h-2zM811 635h1v1h-1zM809 636h2v1h-2zM808 637h1v1h-1zM807 638h1v1h-1zM805 639h2v1h-2zM804 640h1v1h-1zM802 641h2v1h-2zM801 642h1v1h-1zM799 643h2v1h-2zM798 644h1v1h-1zM797 645h1v1h-1zM795 646h2v1h-2zM794 647h1v1h-1zM792 648h2v1h-2zM791 649h1v1h-1zM789 650h2v1h-2zM788 651h1v1h-1zM787 652h1v1h-1zM785 653h2v1h-2zM784 654h1v1h-1zM782 655h2v1h-2zM781 656h1v1h-1zM779 657h2v1h-2zM778 658h1v1h-1zM777 659h1v1h-1zM775 660h2v1h-2zM774 661h1v1h-1zM772 662h2v1h-2zM771 663h1v1h-1zM769 664h2v1h-2zM768 665h1v1h-1zM767 666h1v1h-1zM765 667h2v1h-2zM764 668h1v1h-1zM762 669h2v1h-2zM761 670h1v1h-1zM759 671h2v1h-2zM758 672h1v1h-1zM757 673h1v1h-1zM755 674h2v1h-2zM754 675h1v1h-1zM752 676h2v1h-2zM751 677h1v1h-1zM749 678h2v1h-2zM748 679h1v1h-1zM747 680h1v1h-1zM745 681h2v1h-2zM744 682h1v1h-1zM742 683h2v1h-2zM741 684h1v1h-1zM739 685h2v1h-2zM738 686h1v1h-1zM737 687h1v1h-1zM735 688h2v1h-2zM734 689h1v1h-1zM732 690h2v1h-2zM731 691h1v1h-1zM729 692h2v1h-2zM728 693h1v1h-1zM727 694h1v1h-1zM725 695h2v1h-2zM724 696h1v1h-1zM722 697h2v1h-2zM721 698h1v1h-1zM1184 175h53v1h-53zM1343 337h1v1h-1zM1344 338h1v1h-1zM1344 339h1v1h-1zM1345 340h1v1h-1zM1346 341h1v1h-1zM1346 342h1v1h-1zM1347 343h1v1h-1zM1348 344h1v1h-1zM1348 345h1v1h-1zM1349 346h1v1h-1zM1350 347h1v1h-1zM1350 348h1v1h-1zM1351 349h1v1h-1zM1352 350h1v1h-1zM1352 351h1v1h-1zM1353 352h1v1h-1zM1353 353h1v1h-1zM1354 354h1v1h-1zM1355 355h1v1h-1zM1355 356h1v1h-1zM1356 357h1v1h-1zM1357 358h1v1h-1zM1357 359h1v1h-1zM1358 360h1v1h-1zM1359 361h1v1h-1zM1359 362h1v1h-1zM1360 363h1v1h-1zM1185 527h2v1h-2zM1187 528h2v1h-2zM1189 529h2v1h-2zM1191 530h2v1h-2zM1193 531h2v1h-2zM1195 532h2v1h-2zM1197 533h2v1h-2zM1199 534h2v1h-2zM1201 535h2v1h-2zM1203 536h2v1h-2zM1205 537h2v1h-2zM1207 538h2v1h-2zM1209 539h2v1h-2zM290 347h1v1h-1zM290 348h1v1h-1zM290 349h1v1h-1zM290 350h1v1h-1zM290 351h1v1h-1zM290 352h1v1h-1zM290 353h1v1h-1zM290 354h1v1h-1zM290 355h1v1h-1zM290 356h1v1h-1zM290 357h1v1h-1zM290 358h1v1h-1zM290 359h1v1h-1zM290 360h1v1h-1zM290 361h1v1h-1zM290 362h1v1h-1zM290 363h1v1h-1zM290 364h1v1h-1zM290 365h1v1h-1z"/><g font-family="Liberation Sans, sans-serif" font-size="13" letter-spacing="0.4" fill="#000"><text x="125" y="115">i</text><text x="125" y="125">iU</text><text x="125" y="145">i</text><text transform="translate(128.3 145) scale(1.2 1)" x="0" y="0">~</text><text x="161" y="174">I</text><text x="294" y="377">e</text><text x="294" y="387">eI</text><text x="326" y="382">eU</text><text x="382" y="475">EU</text><text x="396" y="510">E</text><text x="409" y="592">EI</text><text x="464" y="584">&amp;</text><text transform="translate(474.5 584) scale(1.2 1)" x="0" y="0">~</text><text x="616" y="274">y</text><text x="616" y="284">I/</text><text x="676" y="453">@</text><text x="676" y="463">@-</text><text x="703" y="574">&amp;U</text><text transform="translate(722.4 574) scale(1.2 1)" x="0" y="0">~</text><text x="703" y="584">&amp;</text><text x="703" y="594">&amp;/</text><text x="725" y="710">aU</text><text x="677" y="740">a</text><text x="677" y="750">A</text><text x="781" y="749">aI</text><text x="1157" y="189">uI</text><text x="1188" y="187">u</text><text x="1188" y="197">U</text><text x="1240" y="200">u</text><text transform="translate(1248.4 200) scale(1.2 1)" x="0" y="0">~</text><text x="1289" y="392">oI</text><text x="1323" y="368">o</text><text transform="translate(1331.7 368) scale(1.2 1)" x="0" y="0">~</text><text x="1364" y="375">o</text><text x="1214" y="551">O</text><text x="1181" y="584">OI</text></g></svg>
</body></html>
